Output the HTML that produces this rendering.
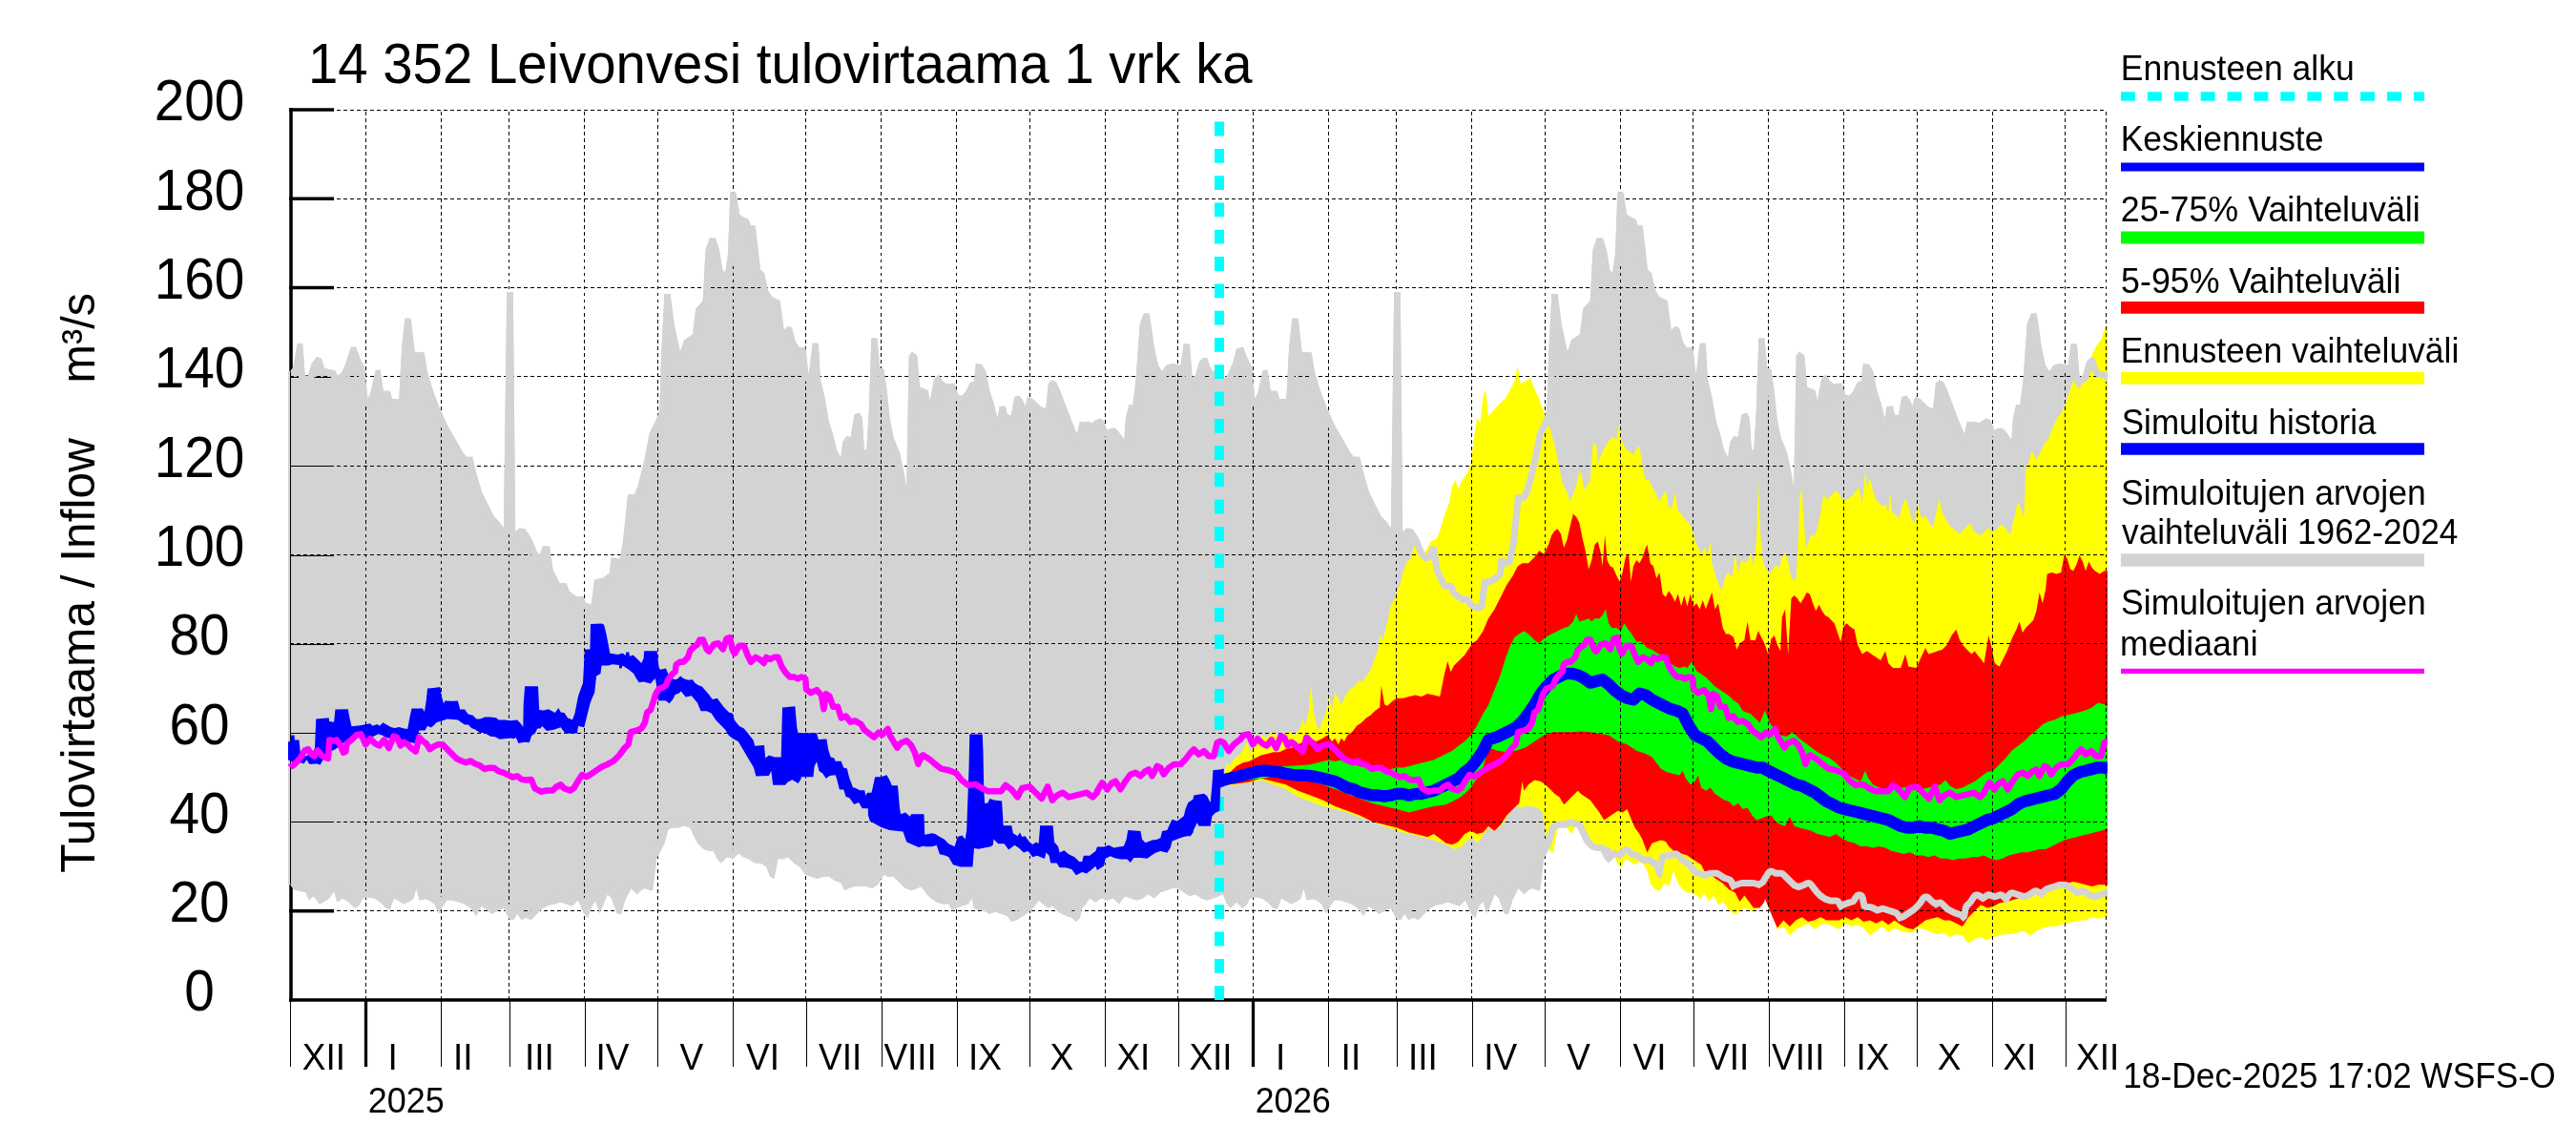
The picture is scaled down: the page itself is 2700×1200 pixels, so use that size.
<!DOCTYPE html>
<html><head><meta charset="utf-8"><style>
html,body{margin:0;padding:0;background:#fff;}
svg{display:block;}
text{font-family:"Liberation Sans",sans-serif;fill:#000;}
svg{will-change:transform;}
.gh{stroke:#000;stroke-width:1;stroke-dasharray:4.4 2.6;stroke-dashoffset:1.05;shape-rendering:crispEdges;}
.gv{stroke:#000;stroke-width:1;stroke-dasharray:3.8 3.224;shape-rendering:crispEdges;}
.yl{font-size:56px;text-anchor:middle;}
.ml{font-size:35.5px;}
.lg{font-size:36px;}
</style></head><body>
<svg width="2700" height="1200" viewBox="0 0 2700 1200">
<defs>
<clipPath id="pc"><rect x="302" y="114" width="1907" height="934"/></clipPath>
<clipPath id="gc"><polygon points="302.0,389.3 304.1,389.3 307.4,385.2 311.5,360.5 317.2,359.7 319.7,393.4 322.6,394.2 326.7,381.0 332.0,373.7 337.0,376.1 340.2,386.0 351.3,388.4 353.4,393.4 357.5,391.3 361.6,383.1 367.8,363.8 373.1,363.8 378.0,376.9 382.1,384.3 385.4,418.0 388.3,411.8 393.6,388.4 398.6,387.6 401.8,409.8 408.8,409.8 410.9,418.0 418.3,418.0 421.1,364.6 424.4,333.8 430.6,333.8 434.7,368.7 444.6,369.5 447.8,389.3 454.0,409.8 460.2,426.2 468.4,444.7 476.6,459.1 484.8,473.4 488.9,478.8 495.1,478.8 499.2,496.0 505.3,516.6 511.5,528.9 517.7,541.2 523.8,547.4 527.9,553.5 531.2,306.3 537.8,306.3 540.2,557.6 544.4,553.5 550.5,554.4 556.7,563.8 562.8,578.2 565.5,581.2 569.0,572.5 576.0,572.5 579.5,596.9 586.5,610.9 593.4,610.9 596.9,619.7 603.9,624.9 610.9,624.9 614.4,631.9 619.7,633.6 623.1,607.4 631.9,605.7 638.9,600.4 640.6,584.7 645.9,584.7 649.3,586.5 652.8,569.0 658.1,518.3 665.1,518.3 668.6,509.6 675.5,481.7 680.8,453.7 687.8,439.7 691.3,429.3 693.1,372.8 696.4,307.9 702.6,307.9 706.7,340.0 712.9,368.7 717.0,356.4 726.0,350.2 729.3,323.6 736.7,315.3 739.5,262.0 743.7,249.6 749.8,249.6 753.9,262.0 757.2,282.5 760.1,286.6 763.0,266.1 765.4,201.2 771.2,201.2 775.3,225.0 780.6,228.3 784.7,229.9 786.8,236.5 791.7,236.5 797.0,282.5 801.1,286.6 805.3,305.1 809.4,311.2 817.6,315.3 821.7,346.1 825.8,342.0 829.9,343.3 834.0,358.5 838.1,364.6 844.3,363.8 847.6,393.4 851.7,359.7 857.8,359.7 859.9,397.5 864.8,418.0 868.9,442.6 873.0,455.0 877.1,471.4 881.2,479.6 883.3,463.2 887.4,457.0 891.5,458.3 895.6,434.4 900.9,432.4 903.8,438.5 905.9,471.4 908.3,471.4 910.8,430.3 913.3,354.4 919.4,354.4 922.3,385.2 926.4,387.2 929.7,409.8 932.6,438.5 936.7,459.1 942.8,473.4 946.9,491.9 950.2,511.6 952.7,372.8 956.0,368.7 961.3,372.8 964.2,405.7 972.4,409.0 974.9,420.1 979.0,397.5 983.9,392.5 988.0,399.5 992.1,402.4 1000.3,401.6 1004.4,413.9 1008.5,414.7 1012.6,409.8 1016.8,400.8 1020.9,399.5 1022.9,381.0 1029.1,381.9 1033.2,389.3 1037.3,409.8 1041.4,422.1 1045.5,438.5 1047.6,426.2 1053.7,425.4 1055.8,434.4 1059.9,435.3 1060.0,434.4 1063.3,416.0 1068.2,414.7 1071.5,418.8 1074.4,425.4 1077.2,416.0 1082.6,418.0 1086.7,422.1 1090.8,426.2 1096.1,428.3 1099.0,401.6 1103.1,398.3 1107.2,400.8 1111.3,409.8 1117.5,426.2 1123.7,442.6 1129.0,455.0 1131.9,441.8 1136.0,442.6 1140.1,441.8 1144.2,443.5 1148.3,440.6 1152.4,438.5 1156.5,440.6 1160.6,450.9 1164.7,448.8 1168.8,448.8 1172.9,452.9 1178.3,461.1 1179.9,438.5 1183.2,424.2 1187.3,424.2 1190.6,397.5 1194.7,340.0 1198.8,328.5 1204.6,328.5 1207.0,344.1 1209.9,364.6 1214.0,383.1 1218.1,389.3 1222.2,383.1 1228.4,381.0 1234.5,381.9 1237.4,383.1 1240.7,360.5 1246.9,360.5 1249.7,395.4 1253.0,393.4 1257.1,379.0 1261.2,374.9 1265.3,374.9 1268.6,385.2 1271.5,389.3 1277.7,389.3 1281.8,393.4 1283.8,397.5 1287.9,390.1 1292.0,381.0 1296.1,365.4 1303.1,363.8 1308.0,376.9 1312.1,384.3 1315.4,418.0 1318.3,411.8 1323.6,388.4 1328.6,387.6 1331.8,409.8 1338.8,409.8 1340.9,418.0 1348.3,418.0 1351.1,364.6 1354.4,333.8 1360.6,333.8 1364.7,368.7 1374.6,369.5 1377.8,389.3 1384.0,409.8 1390.2,426.2 1398.4,444.7 1406.6,459.1 1414.8,473.4 1418.9,478.8 1425.1,478.8 1429.2,496.0 1435.3,516.6 1441.5,528.9 1447.7,541.2 1453.8,547.4 1457.9,553.5 1461.2,306.3 1467.8,306.3 1470.2,557.6 1474.4,553.5 1480.5,554.4 1486.7,563.8 1492.8,578.2 1495.5,581.2 1499.0,572.5 1506.0,572.5 1509.5,596.9 1516.5,610.9 1523.4,610.9 1526.9,619.7 1533.9,624.9 1540.9,624.9 1544.4,631.9 1549.7,633.6 1553.1,607.4 1561.9,605.7 1568.9,600.4 1570.6,584.7 1575.9,584.7 1579.3,586.5 1582.8,569.0 1588.1,518.3 1595.1,518.3 1598.6,509.6 1605.5,481.7 1610.8,453.7 1617.8,439.7 1621.3,429.3 1623.1,372.8 1626.4,307.9 1632.6,307.9 1636.7,340.0 1642.9,368.7 1647.0,356.4 1656.0,350.2 1659.3,323.6 1666.7,315.3 1669.5,262.0 1673.7,249.6 1679.8,249.6 1683.9,262.0 1687.2,282.5 1690.1,286.6 1693.0,266.1 1695.4,201.2 1701.2,201.2 1705.3,225.0 1710.6,228.3 1714.7,229.9 1716.8,236.5 1721.7,236.5 1727.0,282.5 1731.1,286.6 1735.3,305.1 1739.4,311.2 1747.6,315.3 1751.7,346.1 1755.8,342.0 1759.9,343.3 1764.0,358.5 1768.1,364.6 1774.3,363.8 1777.6,393.4 1781.7,359.7 1787.8,359.7 1789.9,397.5 1794.8,418.0 1798.9,442.6 1803.0,455.0 1807.1,471.4 1811.2,479.6 1813.3,463.2 1817.4,457.0 1821.5,458.3 1825.6,434.4 1830.9,432.4 1833.8,438.5 1835.9,471.4 1838.3,471.4 1840.8,430.3 1843.3,354.4 1849.4,354.4 1852.3,385.2 1856.4,387.2 1859.7,409.8 1862.6,438.5 1866.7,459.1 1872.8,473.4 1876.9,491.9 1880.2,511.6 1882.7,372.8 1886.0,368.7 1891.3,372.8 1894.2,405.7 1902.4,409.0 1904.9,420.1 1909.0,397.5 1913.9,392.5 1918.0,399.5 1922.1,402.4 1930.3,401.6 1934.4,413.9 1938.5,414.7 1942.6,409.8 1946.8,400.8 1950.9,399.5 1952.9,381.0 1959.1,381.9 1963.2,389.3 1967.3,409.8 1971.4,422.1 1975.5,438.5 1977.6,426.2 1983.7,425.4 1985.8,434.4 1989.9,435.3 1990.0,434.4 1993.3,416.0 1998.2,414.7 2001.5,418.8 2004.4,425.4 2007.2,416.0 2012.6,418.0 2016.7,422.1 2020.8,426.2 2026.1,428.3 2029.0,401.6 2033.1,398.3 2037.2,400.8 2041.3,409.8 2047.5,426.2 2053.7,442.6 2059.0,455.0 2061.9,441.8 2066.0,442.6 2070.1,441.8 2074.2,443.5 2078.3,440.6 2082.4,438.5 2086.5,440.6 2090.6,450.9 2094.7,448.8 2098.8,448.8 2102.9,452.9 2108.3,461.1 2109.9,438.5 2113.2,424.2 2117.3,424.2 2120.6,397.5 2124.7,340.0 2128.8,328.5 2134.6,328.5 2137.0,344.1 2139.9,364.6 2144.0,383.1 2148.1,389.3 2152.2,383.1 2158.4,381.0 2164.5,381.9 2167.4,383.1 2170.7,360.5 2176.9,360.5 2179.7,395.4 2183.0,393.4 2187.1,379.0 2191.2,374.9 2195.3,374.9 2198.6,385.2 2201.5,389.3 2207.7,389.3 2211.8,393.4 2213.8,397.5 2210.0,397.5 2210.0,937.3 2211.8,937.3 2207.7,939.3 2201.5,941.4 2195.3,943.4 2189.2,941.4 2183.0,937.3 2176.9,939.3 2170.7,935.2 2164.5,931.1 2158.4,931.1 2152.2,933.2 2146.1,935.2 2139.9,941.4 2133.7,937.3 2127.6,941.4 2121.4,943.4 2115.3,941.4 2109.1,939.3 2102.9,947.6 2096.8,941.4 2090.6,943.4 2084.5,941.4 2078.3,945.5 2072.1,941.4 2068.0,947.6 2063.9,951.7 2061.9,961.9 2057.8,966.0 2053.7,961.9 2047.5,959.9 2039.3,955.8 2033.1,949.6 2029.0,951.7 2022.9,947.6 2018.7,943.4 2014.6,949.6 2008.5,955.8 2002.3,959.9 1996.2,964.0 1990.0,966.0 1985.8,959.9 1979.6,957.8 1973.4,955.8 1967.3,957.8 1961.1,954.5 1955.0,953.7 1950.9,951.7 1948.8,941.4 1944.7,947.6 1938.5,949.6 1932.4,951.7 1928.3,954.5 1924.2,947.6 1918.0,947.6 1911.8,945.5 1905.7,941.4 1901.6,937.3 1895.4,929.1 1891.3,931.1 1885.2,933.2 1879.0,931.1 1872.8,925.0 1866.7,918.8 1860.5,918.8 1856.4,916.8 1850.2,927.0 1844.1,931.1 1837.9,929.1 1831.8,929.1 1825.6,929.1 1819.4,931.1 1815.3,933.2 1811.2,925.0 1805.1,922.9 1798.9,918.8 1792.8,918.8 1786.6,920.9 1780.4,918.8 1774.3,916.8 1768.1,908.5 1762.0,904.4 1755.8,898.3 1751.7,900.3 1745.5,900.3 1741.4,920.9 1737.3,918.8 1733.2,908.5 1727.0,904.4 1720.9,904.4 1714.7,900.3 1708.6,898.3 1704.5,894.2 1698.3,900.3 1692.1,898.3 1686.0,904.4 1681.9,900.3 1677.8,892.1 1673.7,892.1 1667.5,890.1 1661.3,883.9 1657.2,875.7 1653.1,867.5 1647.0,865.4 1640.8,867.5 1634.6,867.5 1630.5,869.5 1626.4,883.9 1622.3,892.1 1618.2,900.3 1614.1,933.2 1611.9,933.2 1605.8,931.1 1601.7,933.2 1597.6,937.3 1591.4,931.1 1585.2,943.4 1581.1,957.8 1577.0,957.8 1570.9,941.4 1566.8,937.3 1562.6,947.6 1558.5,957.0 1554.4,944.7 1550.3,949.6 1546.2,961.9 1542.1,957.8 1536.0,943.4 1529.8,949.6 1523.6,947.6 1517.5,945.5 1511.3,947.6 1505.2,948.8 1499.0,951.7 1492.8,957.8 1486.7,964.0 1481.3,961.9 1476.4,964.0 1472.3,957.8 1468.2,964.0 1464.1,964.0 1457.9,951.7 1451.8,954.5 1445.6,957.8 1440.3,953.7 1434.5,949.6 1429.2,959.9 1423.0,951.7 1416.9,947.6 1410.7,945.5 1404.5,943.4 1398.4,943.4 1394.3,949.6 1390.2,957.8 1385.2,947.6 1379.9,943.4 1375.8,942.2 1369.6,943.4 1366.3,931.1 1363.5,941.4 1359.4,944.7 1353.2,947.6 1347.0,943.4 1342.9,941.4 1338.8,952.9 1334.7,951.7 1328.6,945.5 1322.4,941.4 1316.2,940.6 1310.1,941.4 1306.0,949.6 1301.9,951.7 1296.1,945.5 1290.0,951.7 1285.9,947.6 1281.8,937.3 1277.7,939.3 1271.5,941.4 1265.3,943.4 1259.2,941.4 1253.0,937.3 1246.9,939.3 1240.7,935.2 1234.5,931.1 1228.4,931.1 1222.2,933.2 1216.1,935.2 1209.9,941.4 1203.7,937.3 1197.6,941.4 1191.4,943.4 1185.3,941.4 1179.1,939.3 1172.9,947.6 1166.8,941.4 1160.6,943.4 1154.5,941.4 1148.3,945.5 1142.1,941.4 1138.0,947.6 1133.9,951.7 1131.9,961.9 1127.8,966.0 1123.7,961.9 1117.5,959.9 1109.3,955.8 1103.1,949.6 1099.0,951.7 1092.9,947.6 1088.7,943.4 1084.6,949.6 1078.5,955.8 1072.3,959.9 1066.2,964.0 1060.0,966.0 1055.8,959.9 1049.6,957.8 1043.4,955.8 1037.3,957.8 1031.1,954.5 1025.0,953.7 1020.9,951.7 1018.8,941.4 1014.7,947.6 1008.5,949.6 1002.4,951.7 998.3,954.5 994.2,947.6 988.0,947.6 981.8,945.5 975.7,941.4 971.6,937.3 965.4,929.1 961.3,931.1 955.2,933.2 949.0,931.1 942.8,925.0 936.7,918.8 930.5,918.8 926.4,916.8 920.2,927.0 914.1,931.1 907.9,929.1 901.8,929.1 895.6,929.1 889.4,931.1 885.3,933.2 881.2,925.0 875.1,922.9 868.9,918.8 862.8,918.8 856.6,920.9 850.4,918.8 844.3,916.8 838.1,908.5 832.0,904.4 825.8,898.3 821.7,900.3 815.5,900.3 811.4,920.9 807.3,918.8 803.2,908.5 797.0,904.4 790.9,904.4 784.7,900.3 778.6,898.3 774.5,894.2 768.3,900.3 762.1,898.3 756.0,904.4 751.9,900.3 747.8,892.1 743.7,892.1 737.5,890.1 731.3,883.9 727.2,875.7 723.1,867.5 717.0,865.4 710.8,867.5 704.6,867.5 700.5,869.5 696.4,883.9 692.3,892.1 688.2,900.3 684.1,933.2 681.9,933.2 675.8,931.1 671.7,933.2 667.6,937.3 661.4,931.1 655.2,943.4 651.1,957.8 647.0,957.8 640.9,941.4 636.8,937.3 632.6,947.6 628.5,957.0 624.4,944.7 620.3,949.6 616.2,961.9 612.1,957.8 606.0,943.4 599.8,949.6 593.6,947.6 587.5,945.5 581.3,947.6 575.2,948.8 569.0,951.7 562.8,957.8 556.7,964.0 551.3,961.9 546.4,964.0 542.3,957.8 538.2,964.0 534.1,964.0 527.9,951.7 521.8,954.5 515.6,957.8 510.3,953.7 504.5,949.6 499.2,959.9 493.0,951.7 486.9,947.6 480.7,945.5 474.5,943.4 468.4,943.4 464.3,949.6 460.2,957.8 455.2,947.6 449.9,943.4 445.8,942.2 439.6,943.4 436.3,931.1 433.5,941.4 429.4,944.7 423.2,947.6 417.0,943.4 412.9,941.4 408.8,952.9 404.7,951.7 398.6,945.5 392.4,941.4 386.2,940.6 380.1,941.4 376.0,949.6 371.9,951.7 365.7,945.5 359.5,941.4 353.4,945.5 350.1,934.0 345.2,941.4 339.0,945.5 334.9,947.6 328.7,939.3 323.8,943.4 320.5,935.2 314.4,934.0 308.2,932.4 304.1,927.0 302.0,927.0"/></clipPath>
<clipPath id="yc"><polygon points="1278.0,816.0 1282.9,812.6 1286.2,799.6 1289.4,802.9 1292.6,796.4 1295.9,793.2 1300.7,789.9 1303.9,783.5 1307.2,777.0 1310.4,789.9 1313.6,780.2 1318.5,777.0 1323.3,770.5 1328.2,773.8 1333.0,767.3 1337.9,770.5 1342.7,773.8 1347.6,767.3 1352.4,767.3 1357.3,770.5 1362.1,764.1 1365.4,754.4 1368.6,760.8 1371.8,744.7 1374.1,717.2 1376.7,744.7 1379.9,760.8 1383.2,764.1 1386.4,754.4 1389.6,747.9 1392.9,728.5 1396.1,744.7 1399.3,725.3 1402.6,731.7 1405.8,738.2 1410.6,728.5 1415.5,722.0 1420.3,718.8 1425.2,712.3 1428.4,715.6 1431.7,709.1 1436.5,702.6 1439.7,692.9 1444.6,680.7 1446.2,666.1 1449.4,671.0 1454.3,651.6 1457.5,635.4 1462.4,625.7 1467.2,612.8 1470.5,599.9 1473.7,590.2 1478.5,585.3 1481.8,572.4 1485.0,561.1 1488.2,570.8 1493.1,578.8 1496.3,574.0 1499.6,567.5 1502.8,565.9 1506.0,564.3 1509.2,556.2 1512.5,544.9 1515.7,535.2 1518.9,527.1 1522.2,509.3 1525.4,502.9 1528.6,512.6 1531.9,504.5 1535.1,499.6 1538.3,494.8 1541.6,486.7 1544.8,460.8 1548.0,438.2 1551.3,443.0 1554.5,415.6 1557.1,408.5 1559.4,428.5 1560.0,436.6 1566.5,428.5 1572.9,422.0 1577.8,417.2 1582.6,409.1 1587.5,399.4 1590.7,383.2 1593.9,402.6 1598.8,399.4 1603.6,396.2 1608.5,407.5 1613.3,418.8 1618.2,431.7 1621.4,444.7 1624.7,447.9 1627.9,460.8 1631.1,473.8 1634.4,489.9 1637.6,506.1 1642.4,515.8 1645.7,525.5 1648.9,517.4 1652.1,509.3 1653.8,499.6 1657.0,493.2 1660.2,512.6 1663.5,509.3 1666.7,502.9 1669.9,464.1 1673.2,465.7 1674.8,486.7 1678.0,477.0 1681.2,470.5 1684.5,464.1 1687.7,460.8 1690.9,457.6 1694.2,460.8 1697.4,443.0 1699.7,460.8 1702.3,467.3 1705.5,472.1 1708.7,473.8 1712.0,477.0 1715.2,470.5 1718.4,467.3 1721.7,489.9 1724.9,502.9 1728.1,502.9 1731.4,509.3 1736.2,519.0 1739.4,525.5 1742.7,519.0 1745.9,514.2 1749.1,532.0 1752.4,532.0 1755.6,515.8 1758.8,535.2 1762.1,538.4 1766.9,544.9 1770.2,548.1 1773.4,554.6 1776.6,567.5 1779.9,574.0 1783.1,580.5 1786.3,574.0 1789.6,580.5 1792.8,567.5 1794.4,590.2 1799.2,606.3 1804.1,619.2 1808.9,603.1 1812.2,599.9 1815.4,606.3 1818.6,580.5 1821.9,599.9 1825.1,586.9 1830.0,590.2 1834.8,580.5 1838.0,593.4 1841.3,561.1 1842.9,502.9 1845.2,561.1 1847.7,586.9 1850.0,595.0 1854.8,601.5 1858.1,596.6 1861.3,591.8 1864.5,595.0 1867.8,585.3 1871.0,578.9 1874.2,588.6 1877.5,606.3 1882.3,608.0 1884.9,569.2 1886.2,523.9 1888.1,511.0 1890.4,540.1 1892.7,575.6 1895.2,569.2 1898.5,559.5 1901.7,562.7 1904.9,553.0 1908.2,536.9 1911.4,517.5 1914.6,523.9 1917.9,520.7 1921.1,517.5 1924.3,514.2 1927.6,517.5 1930.8,523.9 1934.0,523.9 1937.3,522.3 1942.1,519.1 1945.3,514.2 1948.6,511.0 1951.8,527.2 1955.0,493.2 1956.7,511.0 1959.9,501.3 1963.1,514.2 1966.4,523.9 1969.6,527.2 1972.8,530.4 1976.1,528.8 1979.3,536.9 1980.9,514.2 1983.2,536.9 1987.4,540.1 1990.6,543.3 1993.8,530.4 1997.1,522.3 2000.3,530.4 2003.5,543.3 2006.8,548.2 2010.0,527.2 2011.6,536.9 2014.8,543.3 2018.1,540.1 2021.3,546.5 2026.1,553.0 2029.4,536.9 2032.6,522.3 2035.8,536.9 2040.7,546.5 2045.5,553.0 2050.4,556.2 2053.6,559.5 2056.9,556.2 2060.1,553.0 2064.9,548.2 2068.2,556.2 2073.0,559.5 2076.2,561.1 2081.1,556.2 2084.3,553.0 2087.6,557.9 2090.8,556.2 2094.0,553.0 2097.3,549.8 2102.1,553.0 2106.9,561.1 2111.8,540.1 2115.0,525.5 2118.3,533.6 2121.5,543.3 2123.1,491.6 2126.3,485.1 2129.6,472.2 2134.4,481.9 2137.7,475.4 2142.5,465.7 2147.3,459.3 2152.2,446.4 2157.0,436.7 2160.3,433.4 2163.5,427.0 2166.7,417.3 2170.0,407.6 2173.2,397.9 2176.4,404.3 2179.7,407.6 2182.9,401.1 2186.1,394.6 2189.4,381.7 2192.6,372.0 2197.4,362.3 2202.3,355.9 2205.5,346.2 2210.1,339.7 2210.1,961.2 2205.5,961.2 2199.1,962.8 2192.6,961.2 2186.1,964.4 2179.7,964.4 2173.2,966.0 2166.7,967.7 2160.3,969.3 2153.8,970.9 2147.3,970.9 2140.9,972.5 2134.4,975.7 2128.0,980.6 2121.5,975.7 2115.0,977.3 2108.6,979.0 2102.1,979.0 2095.6,980.6 2089.2,982.2 2082.7,985.4 2076.2,982.2 2069.8,983.8 2063.3,988.7 2056.9,980.6 2050.4,979.0 2043.9,982.2 2037.5,977.3 2031.0,979.0 2024.5,977.3 2018.1,974.1 2011.6,972.5 2005.1,977.3 1998.7,977.3 1992.2,975.7 1985.7,972.5 1979.3,977.3 1972.8,970.9 1966.4,975.7 1959.9,980.6 1953.4,972.5 1947.0,969.3 1940.5,970.9 1934.0,967.7 1927.6,974.1 1921.1,970.9 1914.6,967.7 1908.2,969.3 1901.7,974.1 1895.2,967.7 1888.8,970.9 1882.3,974.1 1875.9,980.6 1869.4,970.9 1862.9,974.1 1856.5,954.7 1850.0,938.6 1847.7,948.3 1842.9,951.6 1838.0,954.8 1833.2,953.2 1828.3,951.6 1823.5,954.8 1818.6,958.0 1815.4,956.4 1810.6,951.6 1805.7,945.1 1800.9,948.3 1796.0,938.6 1791.2,945.1 1786.3,935.4 1783.1,941.9 1778.2,938.6 1773.4,935.4 1768.5,935.4 1763.7,932.2 1758.8,925.7 1754.0,912.8 1749.1,928.9 1744.3,925.7 1739.4,933.8 1734.6,932.2 1729.7,925.7 1726.5,912.8 1723.3,906.3 1718.4,903.1 1713.6,906.3 1708.7,903.1 1703.9,899.9 1699.0,909.6 1695.8,906.3 1690.9,893.4 1686.1,886.9 1681.2,890.2 1676.4,886.9 1671.5,890.2 1666.7,886.9 1661.8,880.5 1657.0,870.8 1652.1,864.3 1647.3,874.0 1642.4,867.5 1637.6,864.3 1632.7,867.5 1627.9,893.4 1623.0,890.2 1619.8,870.8 1616.6,851.4 1611.7,846.5 1605.3,844.9 1598.8,844.9 1593.9,846.5 1589.1,844.9 1584.2,849.7 1579.4,856.2 1572.9,865.9 1566.5,870.8 1560.0,867.5 1554.5,875.6 1548.0,883.7 1543.2,877.2 1538.3,880.5 1531.9,886.9 1525.4,890.2 1515.7,885.3 1502.8,880.5 1489.9,877.2 1476.9,874.0 1464.0,870.8 1451.1,865.9 1438.1,861.1 1425.2,856.2 1412.3,851.4 1399.3,848.1 1386.4,844.9 1373.5,840.0 1360.5,835.2 1347.6,827.1 1334.7,822.3 1321.7,817.4 1308.8,820.6 1295.9,822.3 1282.9,823.9"/></clipPath>
<clipPath id="fcc"><rect x="1278.0" y="115" width="929.0" height="933"/></clipPath>
</defs>
<rect width="2700" height="1200" fill="#fff"/>
<line x1="305" y1="113" x2="305" y2="1050" stroke="#000" stroke-width="3.5"/>
<line x1="303" y1="1048" x2="2208" y2="1048" stroke="#000" stroke-width="3.5"/>
<text transform="translate(209.0,1059.4) scale(1,1.06)" style="font-size:56.8px" text-anchor="middle">0</text><line x1="303" y1="954.7" x2="350" y2="954.7" stroke="#000" stroke-width="3.5"/><text transform="translate(209.0,966.1) scale(1,1.06)" style="font-size:56.8px" text-anchor="middle">20</text><line x1="303" y1="861.4" x2="350" y2="861.4" stroke="#000" stroke-width="3.5"/><text transform="translate(209.0,872.8) scale(1,1.06)" style="font-size:56.8px" text-anchor="middle">40</text><line x1="303" y1="768.1" x2="350" y2="768.1" stroke="#000" stroke-width="3.5"/><text transform="translate(209.0,779.5) scale(1,1.06)" style="font-size:56.8px" text-anchor="middle">60</text><line x1="303" y1="674.8" x2="350" y2="674.8" stroke="#000" stroke-width="3.5"/><text transform="translate(209.0,686.2) scale(1,1.06)" style="font-size:56.8px" text-anchor="middle">80</text><line x1="303" y1="581.5" x2="350" y2="581.5" stroke="#000" stroke-width="3.5"/><text transform="translate(209.0,592.9) scale(1,1.06)" style="font-size:56.8px" text-anchor="middle">100</text><line x1="303" y1="488.2" x2="350" y2="488.2" stroke="#000" stroke-width="3.5"/><text transform="translate(209.0,499.6) scale(1,1.06)" style="font-size:56.8px" text-anchor="middle">120</text><line x1="303" y1="394.9" x2="350" y2="394.9" stroke="#000" stroke-width="3.5"/><text transform="translate(209.0,406.3) scale(1,1.06)" style="font-size:56.8px" text-anchor="middle">140</text><line x1="303" y1="301.6" x2="350" y2="301.6" stroke="#000" stroke-width="3.5"/><text transform="translate(209.0,313.0) scale(1,1.06)" style="font-size:56.8px" text-anchor="middle">160</text><line x1="303" y1="208.3" x2="350" y2="208.3" stroke="#000" stroke-width="3.5"/><text transform="translate(209.0,219.7) scale(1,1.06)" style="font-size:56.8px" text-anchor="middle">180</text><line x1="303" y1="115.0" x2="350" y2="115.0" stroke="#000" stroke-width="3.5"/><text transform="translate(209.0,126.4) scale(1,1.06)" style="font-size:56.8px" text-anchor="middle">200</text><line x1="304.5" y1="1048" x2="304.5" y2="1118" stroke="#000" stroke-width="1"/><line x1="383.5" y1="1048" x2="383.5" y2="1118" stroke="#000" stroke-width="3.3"/><line x1="462.5" y1="1048" x2="462.5" y2="1118" stroke="#000" stroke-width="1"/><line x1="534.5" y1="1048" x2="534.5" y2="1118" stroke="#000" stroke-width="1"/><line x1="613.5" y1="1048" x2="613.5" y2="1118" stroke="#000" stroke-width="1"/><line x1="689.5" y1="1048" x2="689.5" y2="1118" stroke="#000" stroke-width="1"/><line x1="768.5" y1="1048" x2="768.5" y2="1118" stroke="#000" stroke-width="1"/><line x1="845.5" y1="1048" x2="845.5" y2="1118" stroke="#000" stroke-width="1"/><line x1="924.5" y1="1048" x2="924.5" y2="1118" stroke="#000" stroke-width="1"/><line x1="1003.5" y1="1048" x2="1003.5" y2="1118" stroke="#000" stroke-width="1"/><line x1="1079.5" y1="1048" x2="1079.5" y2="1118" stroke="#000" stroke-width="1"/><line x1="1158.5" y1="1048" x2="1158.5" y2="1118" stroke="#000" stroke-width="1"/><line x1="1235.5" y1="1048" x2="1235.5" y2="1118" stroke="#000" stroke-width="1"/><line x1="1313.5" y1="1048" x2="1313.5" y2="1118" stroke="#000" stroke-width="3.3"/><line x1="1392.5" y1="1048" x2="1392.5" y2="1118" stroke="#000" stroke-width="1"/><line x1="1464.5" y1="1048" x2="1464.5" y2="1118" stroke="#000" stroke-width="1"/><line x1="1543.5" y1="1048" x2="1543.5" y2="1118" stroke="#000" stroke-width="1"/><line x1="1619.5" y1="1048" x2="1619.5" y2="1118" stroke="#000" stroke-width="1"/><line x1="1698.5" y1="1048" x2="1698.5" y2="1118" stroke="#000" stroke-width="1"/><line x1="1775.5" y1="1048" x2="1775.5" y2="1118" stroke="#000" stroke-width="1"/><line x1="1854.5" y1="1048" x2="1854.5" y2="1118" stroke="#000" stroke-width="1"/><line x1="1933.5" y1="1048" x2="1933.5" y2="1118" stroke="#000" stroke-width="1"/><line x1="2009.5" y1="1048" x2="2009.5" y2="1118" stroke="#000" stroke-width="1"/><line x1="2088.5" y1="1048" x2="2088.5" y2="1118" stroke="#000" stroke-width="1"/><line x1="2165.5" y1="1048" x2="2165.5" y2="1118" stroke="#000" stroke-width="1"/>
<g clip-path="url(#pc)">
<polygon points="302.0,389.3 304.1,389.3 307.4,385.2 311.5,360.5 317.2,359.7 319.7,393.4 322.6,394.2 326.7,381.0 332.0,373.7 337.0,376.1 340.2,386.0 351.3,388.4 353.4,393.4 357.5,391.3 361.6,383.1 367.8,363.8 373.1,363.8 378.0,376.9 382.1,384.3 385.4,418.0 388.3,411.8 393.6,388.4 398.6,387.6 401.8,409.8 408.8,409.8 410.9,418.0 418.3,418.0 421.1,364.6 424.4,333.8 430.6,333.8 434.7,368.7 444.6,369.5 447.8,389.3 454.0,409.8 460.2,426.2 468.4,444.7 476.6,459.1 484.8,473.4 488.9,478.8 495.1,478.8 499.2,496.0 505.3,516.6 511.5,528.9 517.7,541.2 523.8,547.4 527.9,553.5 531.2,306.3 537.8,306.3 540.2,557.6 544.4,553.5 550.5,554.4 556.7,563.8 562.8,578.2 565.5,581.2 569.0,572.5 576.0,572.5 579.5,596.9 586.5,610.9 593.4,610.9 596.9,619.7 603.9,624.9 610.9,624.9 614.4,631.9 619.7,633.6 623.1,607.4 631.9,605.7 638.9,600.4 640.6,584.7 645.9,584.7 649.3,586.5 652.8,569.0 658.1,518.3 665.1,518.3 668.6,509.6 675.5,481.7 680.8,453.7 687.8,439.7 691.3,429.3 693.1,372.8 696.4,307.9 702.6,307.9 706.7,340.0 712.9,368.7 717.0,356.4 726.0,350.2 729.3,323.6 736.7,315.3 739.5,262.0 743.7,249.6 749.8,249.6 753.9,262.0 757.2,282.5 760.1,286.6 763.0,266.1 765.4,201.2 771.2,201.2 775.3,225.0 780.6,228.3 784.7,229.9 786.8,236.5 791.7,236.5 797.0,282.5 801.1,286.6 805.3,305.1 809.4,311.2 817.6,315.3 821.7,346.1 825.8,342.0 829.9,343.3 834.0,358.5 838.1,364.6 844.3,363.8 847.6,393.4 851.7,359.7 857.8,359.7 859.9,397.5 864.8,418.0 868.9,442.6 873.0,455.0 877.1,471.4 881.2,479.6 883.3,463.2 887.4,457.0 891.5,458.3 895.6,434.4 900.9,432.4 903.8,438.5 905.9,471.4 908.3,471.4 910.8,430.3 913.3,354.4 919.4,354.4 922.3,385.2 926.4,387.2 929.7,409.8 932.6,438.5 936.7,459.1 942.8,473.4 946.9,491.9 950.2,511.6 952.7,372.8 956.0,368.7 961.3,372.8 964.2,405.7 972.4,409.0 974.9,420.1 979.0,397.5 983.9,392.5 988.0,399.5 992.1,402.4 1000.3,401.6 1004.4,413.9 1008.5,414.7 1012.6,409.8 1016.8,400.8 1020.9,399.5 1022.9,381.0 1029.1,381.9 1033.2,389.3 1037.3,409.8 1041.4,422.1 1045.5,438.5 1047.6,426.2 1053.7,425.4 1055.8,434.4 1059.9,435.3 1060.0,434.4 1063.3,416.0 1068.2,414.7 1071.5,418.8 1074.4,425.4 1077.2,416.0 1082.6,418.0 1086.7,422.1 1090.8,426.2 1096.1,428.3 1099.0,401.6 1103.1,398.3 1107.2,400.8 1111.3,409.8 1117.5,426.2 1123.7,442.6 1129.0,455.0 1131.9,441.8 1136.0,442.6 1140.1,441.8 1144.2,443.5 1148.3,440.6 1152.4,438.5 1156.5,440.6 1160.6,450.9 1164.7,448.8 1168.8,448.8 1172.9,452.9 1178.3,461.1 1179.9,438.5 1183.2,424.2 1187.3,424.2 1190.6,397.5 1194.7,340.0 1198.8,328.5 1204.6,328.5 1207.0,344.1 1209.9,364.6 1214.0,383.1 1218.1,389.3 1222.2,383.1 1228.4,381.0 1234.5,381.9 1237.4,383.1 1240.7,360.5 1246.9,360.5 1249.7,395.4 1253.0,393.4 1257.1,379.0 1261.2,374.9 1265.3,374.9 1268.6,385.2 1271.5,389.3 1277.7,389.3 1281.8,393.4 1283.8,397.5 1287.9,390.1 1292.0,381.0 1296.1,365.4 1303.1,363.8 1308.0,376.9 1312.1,384.3 1315.4,418.0 1318.3,411.8 1323.6,388.4 1328.6,387.6 1331.8,409.8 1338.8,409.8 1340.9,418.0 1348.3,418.0 1351.1,364.6 1354.4,333.8 1360.6,333.8 1364.7,368.7 1374.6,369.5 1377.8,389.3 1384.0,409.8 1390.2,426.2 1398.4,444.7 1406.6,459.1 1414.8,473.4 1418.9,478.8 1425.1,478.8 1429.2,496.0 1435.3,516.6 1441.5,528.9 1447.7,541.2 1453.8,547.4 1457.9,553.5 1461.2,306.3 1467.8,306.3 1470.2,557.6 1474.4,553.5 1480.5,554.4 1486.7,563.8 1492.8,578.2 1495.5,581.2 1499.0,572.5 1506.0,572.5 1509.5,596.9 1516.5,610.9 1523.4,610.9 1526.9,619.7 1533.9,624.9 1540.9,624.9 1544.4,631.9 1549.7,633.6 1553.1,607.4 1561.9,605.7 1568.9,600.4 1570.6,584.7 1575.9,584.7 1579.3,586.5 1582.8,569.0 1588.1,518.3 1595.1,518.3 1598.6,509.6 1605.5,481.7 1610.8,453.7 1617.8,439.7 1621.3,429.3 1623.1,372.8 1626.4,307.9 1632.6,307.9 1636.7,340.0 1642.9,368.7 1647.0,356.4 1656.0,350.2 1659.3,323.6 1666.7,315.3 1669.5,262.0 1673.7,249.6 1679.8,249.6 1683.9,262.0 1687.2,282.5 1690.1,286.6 1693.0,266.1 1695.4,201.2 1701.2,201.2 1705.3,225.0 1710.6,228.3 1714.7,229.9 1716.8,236.5 1721.7,236.5 1727.0,282.5 1731.1,286.6 1735.3,305.1 1739.4,311.2 1747.6,315.3 1751.7,346.1 1755.8,342.0 1759.9,343.3 1764.0,358.5 1768.1,364.6 1774.3,363.8 1777.6,393.4 1781.7,359.7 1787.8,359.7 1789.9,397.5 1794.8,418.0 1798.9,442.6 1803.0,455.0 1807.1,471.4 1811.2,479.6 1813.3,463.2 1817.4,457.0 1821.5,458.3 1825.6,434.4 1830.9,432.4 1833.8,438.5 1835.9,471.4 1838.3,471.4 1840.8,430.3 1843.3,354.4 1849.4,354.4 1852.3,385.2 1856.4,387.2 1859.7,409.8 1862.6,438.5 1866.7,459.1 1872.8,473.4 1876.9,491.9 1880.2,511.6 1882.7,372.8 1886.0,368.7 1891.3,372.8 1894.2,405.7 1902.4,409.0 1904.9,420.1 1909.0,397.5 1913.9,392.5 1918.0,399.5 1922.1,402.4 1930.3,401.6 1934.4,413.9 1938.5,414.7 1942.6,409.8 1946.8,400.8 1950.9,399.5 1952.9,381.0 1959.1,381.9 1963.2,389.3 1967.3,409.8 1971.4,422.1 1975.5,438.5 1977.6,426.2 1983.7,425.4 1985.8,434.4 1989.9,435.3 1990.0,434.4 1993.3,416.0 1998.2,414.7 2001.5,418.8 2004.4,425.4 2007.2,416.0 2012.6,418.0 2016.7,422.1 2020.8,426.2 2026.1,428.3 2029.0,401.6 2033.1,398.3 2037.2,400.8 2041.3,409.8 2047.5,426.2 2053.7,442.6 2059.0,455.0 2061.9,441.8 2066.0,442.6 2070.1,441.8 2074.2,443.5 2078.3,440.6 2082.4,438.5 2086.5,440.6 2090.6,450.9 2094.7,448.8 2098.8,448.8 2102.9,452.9 2108.3,461.1 2109.9,438.5 2113.2,424.2 2117.3,424.2 2120.6,397.5 2124.7,340.0 2128.8,328.5 2134.6,328.5 2137.0,344.1 2139.9,364.6 2144.0,383.1 2148.1,389.3 2152.2,383.1 2158.4,381.0 2164.5,381.9 2167.4,383.1 2170.7,360.5 2176.9,360.5 2179.7,395.4 2183.0,393.4 2187.1,379.0 2191.2,374.9 2195.3,374.9 2198.6,385.2 2201.5,389.3 2207.7,389.3 2211.8,393.4 2213.8,397.5 2210.0,397.5 2210.0,937.3 2211.8,937.3 2207.7,939.3 2201.5,941.4 2195.3,943.4 2189.2,941.4 2183.0,937.3 2176.9,939.3 2170.7,935.2 2164.5,931.1 2158.4,931.1 2152.2,933.2 2146.1,935.2 2139.9,941.4 2133.7,937.3 2127.6,941.4 2121.4,943.4 2115.3,941.4 2109.1,939.3 2102.9,947.6 2096.8,941.4 2090.6,943.4 2084.5,941.4 2078.3,945.5 2072.1,941.4 2068.0,947.6 2063.9,951.7 2061.9,961.9 2057.8,966.0 2053.7,961.9 2047.5,959.9 2039.3,955.8 2033.1,949.6 2029.0,951.7 2022.9,947.6 2018.7,943.4 2014.6,949.6 2008.5,955.8 2002.3,959.9 1996.2,964.0 1990.0,966.0 1985.8,959.9 1979.6,957.8 1973.4,955.8 1967.3,957.8 1961.1,954.5 1955.0,953.7 1950.9,951.7 1948.8,941.4 1944.7,947.6 1938.5,949.6 1932.4,951.7 1928.3,954.5 1924.2,947.6 1918.0,947.6 1911.8,945.5 1905.7,941.4 1901.6,937.3 1895.4,929.1 1891.3,931.1 1885.2,933.2 1879.0,931.1 1872.8,925.0 1866.7,918.8 1860.5,918.8 1856.4,916.8 1850.2,927.0 1844.1,931.1 1837.9,929.1 1831.8,929.1 1825.6,929.1 1819.4,931.1 1815.3,933.2 1811.2,925.0 1805.1,922.9 1798.9,918.8 1792.8,918.8 1786.6,920.9 1780.4,918.8 1774.3,916.8 1768.1,908.5 1762.0,904.4 1755.8,898.3 1751.7,900.3 1745.5,900.3 1741.4,920.9 1737.3,918.8 1733.2,908.5 1727.0,904.4 1720.9,904.4 1714.7,900.3 1708.6,898.3 1704.5,894.2 1698.3,900.3 1692.1,898.3 1686.0,904.4 1681.9,900.3 1677.8,892.1 1673.7,892.1 1667.5,890.1 1661.3,883.9 1657.2,875.7 1653.1,867.5 1647.0,865.4 1640.8,867.5 1634.6,867.5 1630.5,869.5 1626.4,883.9 1622.3,892.1 1618.2,900.3 1614.1,933.2 1611.9,933.2 1605.8,931.1 1601.7,933.2 1597.6,937.3 1591.4,931.1 1585.2,943.4 1581.1,957.8 1577.0,957.8 1570.9,941.4 1566.8,937.3 1562.6,947.6 1558.5,957.0 1554.4,944.7 1550.3,949.6 1546.2,961.9 1542.1,957.8 1536.0,943.4 1529.8,949.6 1523.6,947.6 1517.5,945.5 1511.3,947.6 1505.2,948.8 1499.0,951.7 1492.8,957.8 1486.7,964.0 1481.3,961.9 1476.4,964.0 1472.3,957.8 1468.2,964.0 1464.1,964.0 1457.9,951.7 1451.8,954.5 1445.6,957.8 1440.3,953.7 1434.5,949.6 1429.2,959.9 1423.0,951.7 1416.9,947.6 1410.7,945.5 1404.5,943.4 1398.4,943.4 1394.3,949.6 1390.2,957.8 1385.2,947.6 1379.9,943.4 1375.8,942.2 1369.6,943.4 1366.3,931.1 1363.5,941.4 1359.4,944.7 1353.2,947.6 1347.0,943.4 1342.9,941.4 1338.8,952.9 1334.7,951.7 1328.6,945.5 1322.4,941.4 1316.2,940.6 1310.1,941.4 1306.0,949.6 1301.9,951.7 1296.1,945.5 1290.0,951.7 1285.9,947.6 1281.8,937.3 1277.7,939.3 1271.5,941.4 1265.3,943.4 1259.2,941.4 1253.0,937.3 1246.9,939.3 1240.7,935.2 1234.5,931.1 1228.4,931.1 1222.2,933.2 1216.1,935.2 1209.9,941.4 1203.7,937.3 1197.6,941.4 1191.4,943.4 1185.3,941.4 1179.1,939.3 1172.9,947.6 1166.8,941.4 1160.6,943.4 1154.5,941.4 1148.3,945.5 1142.1,941.4 1138.0,947.6 1133.9,951.7 1131.9,961.9 1127.8,966.0 1123.7,961.9 1117.5,959.9 1109.3,955.8 1103.1,949.6 1099.0,951.7 1092.9,947.6 1088.7,943.4 1084.6,949.6 1078.5,955.8 1072.3,959.9 1066.2,964.0 1060.0,966.0 1055.8,959.9 1049.6,957.8 1043.4,955.8 1037.3,957.8 1031.1,954.5 1025.0,953.7 1020.9,951.7 1018.8,941.4 1014.7,947.6 1008.5,949.6 1002.4,951.7 998.3,954.5 994.2,947.6 988.0,947.6 981.8,945.5 975.7,941.4 971.6,937.3 965.4,929.1 961.3,931.1 955.2,933.2 949.0,931.1 942.8,925.0 936.7,918.8 930.5,918.8 926.4,916.8 920.2,927.0 914.1,931.1 907.9,929.1 901.8,929.1 895.6,929.1 889.4,931.1 885.3,933.2 881.2,925.0 875.1,922.9 868.9,918.8 862.8,918.8 856.6,920.9 850.4,918.8 844.3,916.8 838.1,908.5 832.0,904.4 825.8,898.3 821.7,900.3 815.5,900.3 811.4,920.9 807.3,918.8 803.2,908.5 797.0,904.4 790.9,904.4 784.7,900.3 778.6,898.3 774.5,894.2 768.3,900.3 762.1,898.3 756.0,904.4 751.9,900.3 747.8,892.1 743.7,892.1 737.5,890.1 731.3,883.9 727.2,875.7 723.1,867.5 717.0,865.4 710.8,867.5 704.6,867.5 700.5,869.5 696.4,883.9 692.3,892.1 688.2,900.3 684.1,933.2 681.9,933.2 675.8,931.1 671.7,933.2 667.6,937.3 661.4,931.1 655.2,943.4 651.1,957.8 647.0,957.8 640.9,941.4 636.8,937.3 632.6,947.6 628.5,957.0 624.4,944.7 620.3,949.6 616.2,961.9 612.1,957.8 606.0,943.4 599.8,949.6 593.6,947.6 587.5,945.5 581.3,947.6 575.2,948.8 569.0,951.7 562.8,957.8 556.7,964.0 551.3,961.9 546.4,964.0 542.3,957.8 538.2,964.0 534.1,964.0 527.9,951.7 521.8,954.5 515.6,957.8 510.3,953.7 504.5,949.6 499.2,959.9 493.0,951.7 486.9,947.6 480.7,945.5 474.5,943.4 468.4,943.4 464.3,949.6 460.2,957.8 455.2,947.6 449.9,943.4 445.8,942.2 439.6,943.4 436.3,931.1 433.5,941.4 429.4,944.7 423.2,947.6 417.0,943.4 412.9,941.4 408.8,952.9 404.7,951.7 398.6,945.5 392.4,941.4 386.2,940.6 380.1,941.4 376.0,949.6 371.9,951.7 365.7,945.5 359.5,941.4 353.4,945.5 350.1,934.0 345.2,941.4 339.0,945.5 334.9,947.6 328.7,939.3 323.8,943.4 320.5,935.2 314.4,934.0 308.2,932.4 304.1,927.0 302.0,927.0" fill="#d3d3d3"/>
<polygon points="1278.0,816.0 1282.9,812.6 1286.2,799.6 1289.4,802.9 1292.6,796.4 1295.9,793.2 1300.7,789.9 1303.9,783.5 1307.2,777.0 1310.4,789.9 1313.6,780.2 1318.5,777.0 1323.3,770.5 1328.2,773.8 1333.0,767.3 1337.9,770.5 1342.7,773.8 1347.6,767.3 1352.4,767.3 1357.3,770.5 1362.1,764.1 1365.4,754.4 1368.6,760.8 1371.8,744.7 1374.1,717.2 1376.7,744.7 1379.9,760.8 1383.2,764.1 1386.4,754.4 1389.6,747.9 1392.9,728.5 1396.1,744.7 1399.3,725.3 1402.6,731.7 1405.8,738.2 1410.6,728.5 1415.5,722.0 1420.3,718.8 1425.2,712.3 1428.4,715.6 1431.7,709.1 1436.5,702.6 1439.7,692.9 1444.6,680.7 1446.2,666.1 1449.4,671.0 1454.3,651.6 1457.5,635.4 1462.4,625.7 1467.2,612.8 1470.5,599.9 1473.7,590.2 1478.5,585.3 1481.8,572.4 1485.0,561.1 1488.2,570.8 1493.1,578.8 1496.3,574.0 1499.6,567.5 1502.8,565.9 1506.0,564.3 1509.2,556.2 1512.5,544.9 1515.7,535.2 1518.9,527.1 1522.2,509.3 1525.4,502.9 1528.6,512.6 1531.9,504.5 1535.1,499.6 1538.3,494.8 1541.6,486.7 1544.8,460.8 1548.0,438.2 1551.3,443.0 1554.5,415.6 1557.1,408.5 1559.4,428.5 1560.0,436.6 1566.5,428.5 1572.9,422.0 1577.8,417.2 1582.6,409.1 1587.5,399.4 1590.7,383.2 1593.9,402.6 1598.8,399.4 1603.6,396.2 1608.5,407.5 1613.3,418.8 1618.2,431.7 1621.4,444.7 1624.7,447.9 1627.9,460.8 1631.1,473.8 1634.4,489.9 1637.6,506.1 1642.4,515.8 1645.7,525.5 1648.9,517.4 1652.1,509.3 1653.8,499.6 1657.0,493.2 1660.2,512.6 1663.5,509.3 1666.7,502.9 1669.9,464.1 1673.2,465.7 1674.8,486.7 1678.0,477.0 1681.2,470.5 1684.5,464.1 1687.7,460.8 1690.9,457.6 1694.2,460.8 1697.4,443.0 1699.7,460.8 1702.3,467.3 1705.5,472.1 1708.7,473.8 1712.0,477.0 1715.2,470.5 1718.4,467.3 1721.7,489.9 1724.9,502.9 1728.1,502.9 1731.4,509.3 1736.2,519.0 1739.4,525.5 1742.7,519.0 1745.9,514.2 1749.1,532.0 1752.4,532.0 1755.6,515.8 1758.8,535.2 1762.1,538.4 1766.9,544.9 1770.2,548.1 1773.4,554.6 1776.6,567.5 1779.9,574.0 1783.1,580.5 1786.3,574.0 1789.6,580.5 1792.8,567.5 1794.4,590.2 1799.2,606.3 1804.1,619.2 1808.9,603.1 1812.2,599.9 1815.4,606.3 1818.6,580.5 1821.9,599.9 1825.1,586.9 1830.0,590.2 1834.8,580.5 1838.0,593.4 1841.3,561.1 1842.9,502.9 1845.2,561.1 1847.7,586.9 1850.0,595.0 1854.8,601.5 1858.1,596.6 1861.3,591.8 1864.5,595.0 1867.8,585.3 1871.0,578.9 1874.2,588.6 1877.5,606.3 1882.3,608.0 1884.9,569.2 1886.2,523.9 1888.1,511.0 1890.4,540.1 1892.7,575.6 1895.2,569.2 1898.5,559.5 1901.7,562.7 1904.9,553.0 1908.2,536.9 1911.4,517.5 1914.6,523.9 1917.9,520.7 1921.1,517.5 1924.3,514.2 1927.6,517.5 1930.8,523.9 1934.0,523.9 1937.3,522.3 1942.1,519.1 1945.3,514.2 1948.6,511.0 1951.8,527.2 1955.0,493.2 1956.7,511.0 1959.9,501.3 1963.1,514.2 1966.4,523.9 1969.6,527.2 1972.8,530.4 1976.1,528.8 1979.3,536.9 1980.9,514.2 1983.2,536.9 1987.4,540.1 1990.6,543.3 1993.8,530.4 1997.1,522.3 2000.3,530.4 2003.5,543.3 2006.8,548.2 2010.0,527.2 2011.6,536.9 2014.8,543.3 2018.1,540.1 2021.3,546.5 2026.1,553.0 2029.4,536.9 2032.6,522.3 2035.8,536.9 2040.7,546.5 2045.5,553.0 2050.4,556.2 2053.6,559.5 2056.9,556.2 2060.1,553.0 2064.9,548.2 2068.2,556.2 2073.0,559.5 2076.2,561.1 2081.1,556.2 2084.3,553.0 2087.6,557.9 2090.8,556.2 2094.0,553.0 2097.3,549.8 2102.1,553.0 2106.9,561.1 2111.8,540.1 2115.0,525.5 2118.3,533.6 2121.5,543.3 2123.1,491.6 2126.3,485.1 2129.6,472.2 2134.4,481.9 2137.7,475.4 2142.5,465.7 2147.3,459.3 2152.2,446.4 2157.0,436.7 2160.3,433.4 2163.5,427.0 2166.7,417.3 2170.0,407.6 2173.2,397.9 2176.4,404.3 2179.7,407.6 2182.9,401.1 2186.1,394.6 2189.4,381.7 2192.6,372.0 2197.4,362.3 2202.3,355.9 2205.5,346.2 2210.1,339.7 2210.1,961.2 2205.5,961.2 2199.1,962.8 2192.6,961.2 2186.1,964.4 2179.7,964.4 2173.2,966.0 2166.7,967.7 2160.3,969.3 2153.8,970.9 2147.3,970.9 2140.9,972.5 2134.4,975.7 2128.0,980.6 2121.5,975.7 2115.0,977.3 2108.6,979.0 2102.1,979.0 2095.6,980.6 2089.2,982.2 2082.7,985.4 2076.2,982.2 2069.8,983.8 2063.3,988.7 2056.9,980.6 2050.4,979.0 2043.9,982.2 2037.5,977.3 2031.0,979.0 2024.5,977.3 2018.1,974.1 2011.6,972.5 2005.1,977.3 1998.7,977.3 1992.2,975.7 1985.7,972.5 1979.3,977.3 1972.8,970.9 1966.4,975.7 1959.9,980.6 1953.4,972.5 1947.0,969.3 1940.5,970.9 1934.0,967.7 1927.6,974.1 1921.1,970.9 1914.6,967.7 1908.2,969.3 1901.7,974.1 1895.2,967.7 1888.8,970.9 1882.3,974.1 1875.9,980.6 1869.4,970.9 1862.9,974.1 1856.5,954.7 1850.0,938.6 1847.7,948.3 1842.9,951.6 1838.0,954.8 1833.2,953.2 1828.3,951.6 1823.5,954.8 1818.6,958.0 1815.4,956.4 1810.6,951.6 1805.7,945.1 1800.9,948.3 1796.0,938.6 1791.2,945.1 1786.3,935.4 1783.1,941.9 1778.2,938.6 1773.4,935.4 1768.5,935.4 1763.7,932.2 1758.8,925.7 1754.0,912.8 1749.1,928.9 1744.3,925.7 1739.4,933.8 1734.6,932.2 1729.7,925.7 1726.5,912.8 1723.3,906.3 1718.4,903.1 1713.6,906.3 1708.7,903.1 1703.9,899.9 1699.0,909.6 1695.8,906.3 1690.9,893.4 1686.1,886.9 1681.2,890.2 1676.4,886.9 1671.5,890.2 1666.7,886.9 1661.8,880.5 1657.0,870.8 1652.1,864.3 1647.3,874.0 1642.4,867.5 1637.6,864.3 1632.7,867.5 1627.9,893.4 1623.0,890.2 1619.8,870.8 1616.6,851.4 1611.7,846.5 1605.3,844.9 1598.8,844.9 1593.9,846.5 1589.1,844.9 1584.2,849.7 1579.4,856.2 1572.9,865.9 1566.5,870.8 1560.0,867.5 1554.5,875.6 1548.0,883.7 1543.2,877.2 1538.3,880.5 1531.9,886.9 1525.4,890.2 1515.7,885.3 1502.8,880.5 1489.9,877.2 1476.9,874.0 1464.0,870.8 1451.1,865.9 1438.1,861.1 1425.2,856.2 1412.3,851.4 1399.3,848.1 1386.4,844.9 1373.5,840.0 1360.5,835.2 1347.6,827.1 1334.7,822.3 1321.7,817.4 1308.8,820.6 1295.9,822.3 1282.9,823.9" fill="#ffff00"/>
<polygon points="1278.0,816.0 1282.9,810.9 1289.4,809.3 1295.9,802.9 1302.3,799.6 1308.8,798.0 1315.3,794.8 1321.7,791.5 1328.2,789.9 1334.7,788.3 1341.1,788.3 1347.6,785.1 1354.1,783.5 1360.5,780.2 1367.0,777.0 1373.5,775.4 1379.9,777.0 1386.4,773.8 1391.2,770.5 1396.1,777.0 1399.3,773.8 1402.6,780.2 1405.8,773.8 1409.0,777.0 1412.3,770.5 1417.1,767.3 1422.0,760.8 1426.8,757.6 1431.7,752.7 1436.5,749.5 1441.4,744.7 1446.2,741.4 1447.8,718.8 1451.1,738.2 1454.3,739.8 1459.1,735.0 1464.0,731.7 1470.5,731.7 1476.9,730.1 1483.4,728.5 1489.9,730.1 1496.3,726.9 1502.8,728.5 1509.2,730.1 1514.1,705.9 1517.3,692.9 1520.6,704.2 1523.8,697.8 1528.6,692.9 1535.1,686.5 1543.2,674.2 1548.0,671.0 1554.5,661.3 1560.0,648.3 1566.5,638.6 1572.9,625.7 1579.4,612.8 1585.9,603.1 1590.7,593.4 1595.6,590.2 1602.0,590.2 1608.5,583.7 1613.3,577.2 1618.2,580.5 1623.0,570.8 1626.3,561.1 1629.5,556.2 1632.7,554.6 1636.0,559.4 1639.2,574.0 1642.4,565.9 1645.7,551.4 1648.9,538.4 1652.1,541.7 1655.4,548.1 1658.6,564.3 1661.8,577.2 1665.1,596.6 1668.3,586.9 1671.5,570.8 1674.8,567.5 1678.0,580.5 1679.6,593.4 1682.2,561.1 1684.5,586.9 1687.7,593.4 1690.9,595.0 1694.2,603.1 1697.4,609.6 1700.6,599.9 1703.9,583.7 1707.1,580.5 1709.4,609.6 1712.0,593.4 1715.2,586.9 1718.4,590.2 1721.7,583.7 1724.9,574.0 1726.5,570.8 1729.7,590.2 1733.0,593.4 1736.2,606.3 1739.4,599.9 1742.7,622.5 1745.9,625.7 1749.1,619.2 1752.4,624.1 1755.6,630.6 1758.8,622.5 1762.1,635.4 1765.3,624.1 1768.5,635.4 1771.8,622.5 1775.0,635.4 1778.2,632.2 1781.5,638.6 1784.7,628.9 1787.9,638.6 1791.2,628.9 1794.4,620.9 1797.6,638.6 1800.9,632.2 1805.7,658.0 1808.9,664.5 1812.2,664.5 1817.0,667.7 1820.3,680.7 1823.5,674.2 1828.3,671.0 1831.6,651.6 1834.8,671.0 1839.7,671.0 1842.9,661.3 1847.7,671.0 1850.0,675.8 1853.2,685.5 1856.5,669.4 1859.7,666.1 1862.9,675.8 1866.2,682.3 1867.8,646.7 1871.0,638.7 1874.2,685.5 1877.5,627.3 1880.7,624.1 1883.9,627.3 1887.2,632.2 1890.4,627.3 1893.6,620.9 1896.9,622.5 1900.1,632.2 1903.3,640.3 1906.6,633.8 1909.8,640.3 1913.0,645.1 1916.3,646.7 1919.5,650.0 1922.7,653.2 1926.0,662.9 1929.2,672.6 1932.4,656.4 1935.6,653.2 1938.9,656.4 1943.7,659.7 1947.0,675.8 1951.8,685.5 1956.7,682.3 1961.5,685.5 1966.4,688.8 1971.2,692.0 1976.1,682.3 1979.3,695.2 1984.1,700.1 1992.2,700.1 1997.1,685.5 2000.3,698.5 2008.4,700.1 2018.1,679.1 2021.3,685.5 2026.1,683.9 2031.0,682.3 2035.8,680.7 2040.7,675.8 2045.5,666.1 2050.4,659.7 2053.6,669.4 2056.9,675.8 2061.7,680.7 2066.5,685.5 2069.8,682.3 2073.0,687.1 2076.2,690.4 2079.5,695.2 2084.3,666.1 2087.6,679.1 2090.8,695.2 2095.6,698.5 2098.9,692.0 2103.7,682.3 2108.6,669.4 2113.4,659.7 2116.6,651.6 2119.9,662.9 2123.1,658.1 2128.0,653.2 2131.2,650.0 2134.4,640.3 2137.7,620.9 2140.9,632.2 2144.1,617.7 2145.7,601.5 2150.6,599.9 2155.4,601.5 2160.3,599.9 2163.5,582.1 2166.7,585.3 2170.0,596.6 2173.2,598.3 2176.4,591.8 2179.7,582.1 2182.9,588.6 2186.1,598.3 2189.4,588.6 2192.6,595.0 2195.8,598.3 2200.7,601.5 2205.5,598.3 2210.1,598.3 2210.1,927.3 2205.5,927.3 2199.1,927.3 2192.6,928.9 2186.1,927.3 2179.7,925.6 2173.2,924.0 2166.7,925.6 2160.3,928.9 2153.8,930.5 2147.3,932.1 2140.9,933.7 2134.4,935.3 2128.0,936.9 2121.5,938.6 2115.0,941.8 2108.6,943.4 2102.1,945.0 2095.6,946.6 2089.2,949.9 2082.7,951.5 2076.2,948.3 2069.8,954.7 2063.3,961.2 2056.9,970.9 2050.4,967.7 2043.9,964.4 2037.5,964.4 2031.0,961.2 2024.5,962.8 2018.1,964.4 2011.6,969.3 2005.1,974.1 1998.7,972.5 1992.2,969.3 1985.7,964.4 1979.3,969.3 1972.8,964.4 1966.4,967.7 1959.9,964.4 1953.4,966.0 1947.0,961.2 1940.5,964.4 1934.0,961.2 1927.6,964.4 1921.1,964.4 1914.6,964.4 1908.2,961.2 1901.7,964.4 1895.2,966.0 1888.8,961.2 1882.3,964.4 1875.9,970.9 1869.4,964.4 1862.9,972.5 1856.5,958.0 1850.0,941.8 1849.4,945.1 1844.5,951.6 1838.0,951.6 1833.2,945.1 1828.3,938.6 1823.5,945.1 1818.6,935.4 1812.2,932.2 1805.7,925.7 1800.9,922.5 1796.0,919.2 1791.2,916.0 1786.3,912.8 1783.1,906.3 1778.2,903.1 1773.4,899.9 1768.5,896.6 1763.7,895.0 1758.8,893.4 1754.0,891.8 1749.1,886.9 1745.9,882.1 1741.1,880.5 1736.2,882.1 1731.4,883.7 1726.5,893.4 1721.7,880.5 1718.4,874.0 1713.6,867.5 1708.7,856.2 1705.5,848.1 1700.6,851.4 1695.8,849.7 1690.9,853.0 1686.1,856.2 1681.2,859.4 1676.4,851.4 1671.5,844.9 1666.7,838.4 1661.8,835.2 1657.0,832.0 1653.8,828.7 1648.9,833.6 1644.1,838.4 1639.2,843.3 1634.4,835.2 1629.5,832.0 1624.7,827.1 1619.8,822.3 1615.0,819.0 1608.5,817.4 1602.0,822.3 1597.2,828.7 1595.6,819.0 1592.3,841.7 1585.9,848.1 1579.4,854.6 1572.9,864.3 1566.5,870.8 1560.0,865.9 1554.5,872.4 1548.0,874.0 1541.6,870.8 1535.1,874.0 1528.6,882.1 1522.2,885.3 1515.7,883.7 1509.2,878.8 1502.8,874.0 1496.3,877.2 1489.9,875.6 1476.9,872.4 1464.0,867.5 1451.1,864.3 1438.1,861.1 1425.2,854.6 1412.3,849.7 1399.3,844.9 1386.4,838.4 1373.5,833.6 1360.5,828.7 1347.6,822.3 1334.7,819.0 1321.7,815.8 1308.8,819.7 1295.9,821.6 1282.9,822.3" fill="#ff0000"/>
<polygon points="1278.0,816.0 1282.9,814.2 1295.9,810.9 1308.8,809.3 1321.7,806.1 1334.7,804.5 1347.6,802.9 1360.5,802.2 1373.5,801.2 1386.4,798.0 1392.9,796.4 1399.3,798.0 1405.8,796.4 1412.3,798.0 1418.7,801.2 1425.2,802.9 1431.7,804.5 1438.1,806.1 1444.6,807.7 1451.1,807.7 1457.5,806.1 1464.0,804.5 1470.5,804.5 1476.9,802.9 1483.4,801.2 1489.9,799.6 1496.3,798.0 1502.8,796.4 1509.2,793.2 1515.7,789.9 1522.2,786.7 1528.6,781.8 1535.1,777.0 1541.6,770.5 1548.0,760.8 1554.5,747.9 1560.0,738.9 1566.5,722.7 1572.9,706.5 1577.8,690.4 1582.6,677.4 1587.5,667.7 1592.3,664.5 1597.2,661.3 1602.0,664.5 1608.5,671.0 1613.3,674.2 1619.8,667.7 1626.3,664.5 1632.7,661.3 1639.2,658.0 1644.1,656.4 1648.9,651.6 1652.1,643.5 1655.4,651.6 1660.2,650.0 1665.1,648.3 1668.3,651.6 1671.5,648.3 1676.4,648.3 1679.6,645.1 1682.9,638.6 1686.1,653.2 1689.3,658.0 1694.2,658.0 1699.0,661.3 1702.3,653.2 1705.5,658.0 1710.3,664.5 1715.2,672.6 1720.0,672.6 1723.3,675.8 1726.5,679.1 1731.4,680.7 1736.2,683.9 1741.1,687.1 1745.9,690.4 1750.8,695.2 1755.6,698.5 1760.5,700.1 1765.3,698.5 1768.5,700.1 1773.4,693.6 1778.2,703.3 1783.1,706.5 1787.9,709.8 1792.8,714.6 1797.6,719.5 1802.5,722.7 1807.3,725.9 1812.2,729.2 1817.0,734.0 1821.9,737.3 1826.7,745.3 1834.8,747.9 1844.5,757.6 1850.0,744.6 1854.8,757.6 1859.7,764.0 1866.2,770.5 1872.6,772.1 1879.1,767.3 1885.6,773.7 1892.0,778.6 1898.5,783.4 1904.9,788.3 1911.4,791.5 1917.9,794.7 1924.3,799.6 1930.8,806.1 1937.3,812.5 1943.7,815.7 1950.2,819.0 1955.0,807.7 1958.3,815.7 1963.1,822.2 1969.6,825.4 1976.1,827.1 1982.5,823.8 1989.0,825.4 1995.4,825.4 2001.9,823.8 2008.4,825.4 2014.8,827.1 2021.3,825.4 2027.8,823.8 2034.2,822.2 2039.1,817.4 2043.9,823.8 2050.4,827.1 2056.9,825.4 2063.3,822.2 2069.8,819.0 2076.2,814.1 2082.7,809.3 2089.2,807.7 2095.6,801.2 2102.1,794.7 2108.6,786.7 2115.0,781.8 2121.5,777.0 2128.0,770.5 2134.4,765.6 2140.9,759.2 2147.3,756.0 2153.8,754.3 2160.3,751.1 2166.7,749.5 2173.2,747.9 2179.7,746.3 2186.1,744.6 2192.6,741.4 2199.1,736.6 2205.5,738.2 2210.1,741.4 2210.1,867.5 2202.3,870.7 2195.8,872.3 2189.4,873.9 2182.9,875.5 2176.4,877.2 2170.0,878.8 2163.5,880.4 2157.0,883.6 2150.6,886.9 2144.1,890.1 2137.7,890.1 2131.2,891.7 2124.7,893.3 2118.3,893.3 2111.8,894.9 2105.3,896.5 2098.9,899.8 2092.4,901.4 2085.9,899.8 2079.5,896.5 2073.0,898.2 2066.5,898.2 2060.1,899.8 2053.6,899.8 2047.2,901.4 2040.7,899.8 2034.2,899.8 2027.8,896.5 2021.3,898.2 2014.8,896.5 2008.4,896.5 2001.9,893.3 1995.4,894.9 1989.0,893.3 1982.5,891.7 1976.1,888.5 1969.6,886.9 1963.1,888.5 1956.7,886.9 1950.2,886.9 1943.7,883.6 1937.3,882.0 1930.8,878.8 1924.3,873.9 1917.9,877.2 1911.4,875.5 1904.9,873.9 1898.5,870.7 1892.0,869.1 1885.6,867.5 1880.7,865.8 1875.9,856.1 1871.0,865.8 1866.2,864.2 1861.3,861.0 1856.5,854.5 1850.0,856.1 1846.1,857.8 1841.3,859.4 1836.4,854.6 1831.6,846.5 1826.7,848.1 1821.9,841.7 1817.0,844.9 1812.2,840.0 1807.3,838.4 1802.5,835.2 1797.6,832.0 1792.8,825.5 1787.9,828.7 1783.1,825.5 1779.9,812.6 1776.6,819.0 1771.8,822.3 1766.9,815.8 1763.7,807.7 1760.5,812.6 1754.0,810.9 1747.5,809.3 1741.1,806.1 1736.2,799.6 1731.4,793.2 1724.9,789.9 1715.2,786.7 1705.5,780.2 1695.8,777.0 1686.1,770.5 1676.4,768.9 1666.7,767.3 1657.0,766.6 1647.3,767.3 1637.6,767.3 1627.9,767.3 1618.2,770.5 1608.5,777.0 1598.8,783.5 1589.1,786.7 1579.4,788.3 1569.7,786.7 1560.0,783.5 1554.5,804.5 1548.0,815.8 1541.6,825.5 1535.1,832.0 1528.6,836.8 1515.7,843.3 1502.8,844.9 1496.3,846.5 1483.4,849.7 1476.9,851.4 1464.0,848.1 1451.1,844.9 1438.1,841.7 1425.2,836.8 1412.3,832.0 1399.3,827.1 1386.4,822.3 1373.5,819.0 1360.5,817.4 1347.6,815.8 1334.7,814.2 1321.7,815.8 1308.8,817.4 1295.9,818.4 1282.9,819.7" fill="#00ff00"/>
<line x1="305" y1="954.7" x2="2207" y2="954.7" class="gh"/><line x1="305" y1="861.4" x2="2207" y2="861.4" class="gh"/><line x1="305" y1="768.1" x2="2207" y2="768.1" class="gh"/><line x1="305" y1="674.8" x2="2207" y2="674.8" class="gh"/><line x1="305" y1="581.5" x2="2207" y2="581.5" class="gh"/><line x1="305" y1="488.2" x2="2207" y2="488.2" class="gh"/><line x1="305" y1="394.9" x2="2207" y2="394.9" class="gh"/><line x1="305" y1="301.6" x2="2207" y2="301.6" class="gh"/><line x1="305" y1="208.3" x2="2207" y2="208.3" class="gh"/><line x1="305" y1="115.0" x2="2207" y2="115.0" class="gh"/><line x1="383.5" y1="117" x2="383.5" y2="1048" class="gv"/><line x1="462.5" y1="117" x2="462.5" y2="1048" class="gv"/><line x1="533.8" y1="117" x2="533.8" y2="1048" class="gv"/><line x1="612.8" y1="117" x2="612.8" y2="1048" class="gv"/><line x1="689.2" y1="117" x2="689.2" y2="1048" class="gv"/><line x1="768.2" y1="117" x2="768.2" y2="1048" class="gv"/><line x1="844.7" y1="117" x2="844.7" y2="1048" class="gv"/><line x1="923.7" y1="117" x2="923.7" y2="1048" class="gv"/><line x1="1002.7" y1="117" x2="1002.7" y2="1048" class="gv"/><line x1="1079.1" y1="117" x2="1079.1" y2="1048" class="gv"/><line x1="1158.1" y1="117" x2="1158.1" y2="1048" class="gv"/><line x1="1234.5" y1="117" x2="1234.5" y2="1048" class="gv"/><line x1="1313.5" y1="117" x2="1313.5" y2="1048" class="gv"/><line x1="1392.5" y1="117" x2="1392.5" y2="1048" class="gv"/><line x1="1463.8" y1="117" x2="1463.8" y2="1048" class="gv"/><line x1="1542.8" y1="117" x2="1542.8" y2="1048" class="gv"/><line x1="1619.3" y1="117" x2="1619.3" y2="1048" class="gv"/><line x1="1698.3" y1="117" x2="1698.3" y2="1048" class="gv"/><line x1="1774.7" y1="117" x2="1774.7" y2="1048" class="gv"/><line x1="1853.7" y1="117" x2="1853.7" y2="1048" class="gv"/><line x1="1932.7" y1="117" x2="1932.7" y2="1048" class="gv"/><line x1="2009.1" y1="117" x2="2009.1" y2="1048" class="gv"/><line x1="2088.1" y1="117" x2="2088.1" y2="1048" class="gv"/><line x1="2164.5" y1="117" x2="2164.5" y2="1048" class="gv"/><line x1="2207" y1="117" x2="2207" y2="1048" class="gv"/>
<line x1="304" y1="955.5" x2="350" y2="955.5" stroke="#000" stroke-width="1"/><line x1="304" y1="861.5" x2="350" y2="861.5" stroke="#000" stroke-width="1"/><line x1="304" y1="768.5" x2="350" y2="768.5" stroke="#000" stroke-width="1"/><line x1="304" y1="675.5" x2="350" y2="675.5" stroke="#000" stroke-width="1"/><line x1="304" y1="582.5" x2="350" y2="582.5" stroke="#000" stroke-width="1"/><line x1="304" y1="488.5" x2="350" y2="488.5" stroke="#000" stroke-width="1"/><line x1="304" y1="395.5" x2="350" y2="395.5" stroke="#000" stroke-width="1"/><line x1="304" y1="302.5" x2="350" y2="302.5" stroke="#000" stroke-width="1"/><line x1="304" y1="208.5" x2="350" y2="208.5" stroke="#000" stroke-width="1"/><line x1="304" y1="115.5" x2="350" y2="115.5" stroke="#000" stroke-width="1"/>
<line x1="304.5" y1="115" x2="304.5" y2="1048" stroke="#000" stroke-width="1"/>
<g clip-path="url(#gc)">
<polyline points="304.1,389.3 307.4,385.2 311.5,360.5 317.2,359.7 319.7,393.4 322.6,394.2 326.7,381.0 332.0,373.7 337.0,376.1 340.2,386.0 351.3,388.4 353.4,393.4 357.5,391.3 361.6,383.1 367.8,363.8 373.1,363.8 378.0,376.9 382.1,384.3 385.4,418.0 388.3,411.8 393.6,388.4 398.6,387.6 401.8,409.8 408.8,409.8 410.9,418.0 418.3,418.0 421.1,364.6 424.4,333.8 430.6,333.8 434.7,368.7 444.6,369.5 447.8,389.3 454.0,409.8 460.2,426.2 468.4,444.7 476.6,459.1 484.8,473.4 488.9,478.8 495.1,478.8 499.2,496.0 505.3,516.6 511.5,528.9 517.7,541.2 523.8,547.4 527.9,553.5 531.2,306.3 537.8,306.3 540.2,557.6 544.4,553.5 550.5,554.4 556.7,563.8 562.8,578.2 565.5,581.2 569.0,572.5 576.0,572.5 579.5,596.9 586.5,610.9 593.4,610.9 596.9,619.7 603.9,624.9 610.9,624.9 614.4,631.9 619.7,633.6 623.1,607.4 631.9,605.7 638.9,600.4 640.6,584.7 645.9,584.7 649.3,586.5 652.8,569.0 658.1,518.3 665.1,518.3 668.6,509.6 675.5,481.7 680.8,453.7 687.8,439.7 691.3,429.3 693.1,372.8 696.4,307.9 702.6,307.9 706.7,340.0 712.9,368.7 717.0,356.4 726.0,350.2 729.3,323.6 736.7,315.3 739.5,262.0 743.7,249.6 749.8,249.6 753.9,262.0 757.2,282.5 760.1,286.6 763.0,266.1 765.4,201.2 771.2,201.2 775.3,225.0 780.6,228.3 784.7,229.9 786.8,236.5 791.7,236.5 797.0,282.5 801.1,286.6 805.3,305.1 809.4,311.2 817.6,315.3 821.7,346.1 825.8,342.0 829.9,343.3 834.0,358.5 838.1,364.6 844.3,363.8 847.6,393.4 851.7,359.7 857.8,359.7 859.9,397.5 864.8,418.0 868.9,442.6 873.0,455.0 877.1,471.4 881.2,479.6 883.3,463.2 887.4,457.0 891.5,458.3 895.6,434.4 900.9,432.4 903.8,438.5 905.9,471.4 908.3,471.4 910.8,430.3 913.3,354.4 919.4,354.4 922.3,385.2 926.4,387.2 929.7,409.8 932.6,438.5 936.7,459.1 942.8,473.4 946.9,491.9 950.2,511.6 952.7,372.8 956.0,368.7 961.3,372.8 964.2,405.7 972.4,409.0 974.9,420.1 979.0,397.5 983.9,392.5 988.0,399.5 992.1,402.4 1000.3,401.6 1004.4,413.9 1008.5,414.7 1012.6,409.8 1016.8,400.8 1020.9,399.5 1022.9,381.0 1029.1,381.9 1033.2,389.3 1037.3,409.8 1041.4,422.1 1045.5,438.5 1047.6,426.2 1053.7,425.4 1055.8,434.4 1059.9,435.3 1060.0,434.4 1063.3,416.0 1068.2,414.7 1071.5,418.8 1074.4,425.4 1077.2,416.0 1082.6,418.0 1086.7,422.1 1090.8,426.2 1096.1,428.3 1099.0,401.6 1103.1,398.3 1107.2,400.8 1111.3,409.8 1117.5,426.2 1123.7,442.6 1129.0,455.0 1131.9,441.8 1136.0,442.6 1140.1,441.8 1144.2,443.5 1148.3,440.6 1152.4,438.5 1156.5,440.6 1160.6,450.9 1164.7,448.8 1168.8,448.8 1172.9,452.9 1178.3,461.1 1179.9,438.5 1183.2,424.2 1187.3,424.2 1190.6,397.5 1194.7,340.0 1198.8,328.5 1204.6,328.5 1207.0,344.1 1209.9,364.6 1214.0,383.1 1218.1,389.3 1222.2,383.1 1228.4,381.0 1234.5,381.9 1237.4,383.1 1240.7,360.5 1246.9,360.5 1249.7,395.4 1253.0,393.4 1257.1,379.0 1261.2,374.9 1265.3,374.9 1268.6,385.2 1271.5,389.3 1277.7,389.3 1281.8,393.4 1283.8,397.5 1287.9,390.1 1292.0,381.0 1296.1,365.4 1303.1,363.8 1308.0,376.9 1312.1,384.3 1315.4,418.0 1318.3,411.8 1323.6,388.4 1328.6,387.6 1331.8,409.8 1338.8,409.8 1340.9,418.0 1348.3,418.0 1351.1,364.6 1354.4,333.8 1360.6,333.8 1364.7,368.7 1374.6,369.5 1377.8,389.3 1384.0,409.8 1390.2,426.2 1398.4,444.7 1406.6,459.1 1414.8,473.4 1418.9,478.8 1425.1,478.8 1429.2,496.0 1435.3,516.6 1441.5,528.9 1447.7,541.2 1453.8,547.4 1457.9,553.5 1461.2,306.3 1467.8,306.3 1470.2,557.6 1474.4,553.5 1480.5,554.4 1486.7,563.8 1492.8,578.2 1495.5,581.2 1499.0,572.5 1506.0,572.5 1509.5,596.9 1516.5,610.9 1523.4,610.9 1526.9,619.7 1533.9,624.9 1540.9,624.9 1544.4,631.9 1549.7,633.6 1553.1,607.4 1561.9,605.7 1568.9,600.4 1570.6,584.7 1575.9,584.7 1579.3,586.5 1582.8,569.0 1588.1,518.3 1595.1,518.3 1598.6,509.6 1605.5,481.7 1610.8,453.7 1617.8,439.7 1621.3,429.3 1623.1,372.8 1626.4,307.9 1632.6,307.9 1636.7,340.0 1642.9,368.7 1647.0,356.4 1656.0,350.2 1659.3,323.6 1666.7,315.3 1669.5,262.0 1673.7,249.6 1679.8,249.6 1683.9,262.0 1687.2,282.5 1690.1,286.6 1693.0,266.1 1695.4,201.2 1701.2,201.2 1705.3,225.0 1710.6,228.3 1714.7,229.9 1716.8,236.5 1721.7,236.5 1727.0,282.5 1731.1,286.6 1735.3,305.1 1739.4,311.2 1747.6,315.3 1751.7,346.1 1755.8,342.0 1759.9,343.3 1764.0,358.5 1768.1,364.6 1774.3,363.8 1777.6,393.4 1781.7,359.7 1787.8,359.7 1789.9,397.5 1794.8,418.0 1798.9,442.6 1803.0,455.0 1807.1,471.4 1811.2,479.6 1813.3,463.2 1817.4,457.0 1821.5,458.3 1825.6,434.4 1830.9,432.4 1833.8,438.5 1835.9,471.4 1838.3,471.4 1840.8,430.3 1843.3,354.4 1849.4,354.4 1852.3,385.2 1856.4,387.2 1859.7,409.8 1862.6,438.5 1866.7,459.1 1872.8,473.4 1876.9,491.9 1880.2,511.6 1882.7,372.8 1886.0,368.7 1891.3,372.8 1894.2,405.7 1902.4,409.0 1904.9,420.1 1909.0,397.5 1913.9,392.5 1918.0,399.5 1922.1,402.4 1930.3,401.6 1934.4,413.9 1938.5,414.7 1942.6,409.8 1946.8,400.8 1950.9,399.5 1952.9,381.0 1959.1,381.9 1963.2,389.3 1967.3,409.8 1971.4,422.1 1975.5,438.5 1977.6,426.2 1983.7,425.4 1985.8,434.4 1989.9,435.3 1990.0,434.4 1993.3,416.0 1998.2,414.7 2001.5,418.8 2004.4,425.4 2007.2,416.0 2012.6,418.0 2016.7,422.1 2020.8,426.2 2026.1,428.3 2029.0,401.6 2033.1,398.3 2037.2,400.8 2041.3,409.8 2047.5,426.2 2053.7,442.6 2059.0,455.0 2061.9,441.8 2066.0,442.6 2070.1,441.8 2074.2,443.5 2078.3,440.6 2082.4,438.5 2086.5,440.6 2090.6,450.9 2094.7,448.8 2098.8,448.8 2102.9,452.9 2108.3,461.1 2109.9,438.5 2113.2,424.2 2117.3,424.2 2120.6,397.5 2124.7,340.0 2128.8,328.5 2134.6,328.5 2137.0,344.1 2139.9,364.6 2144.0,383.1 2148.1,389.3 2152.2,383.1 2158.4,381.0 2164.5,381.9 2167.4,383.1 2170.7,360.5 2176.9,360.5 2179.7,395.4 2183.0,393.4 2187.1,379.0 2191.2,374.9 2195.3,374.9 2198.6,385.2 2201.5,389.3 2207.7,389.3 2211.8,393.4 2213.8,397.5" fill="none" stroke="#d3d3d3" stroke-width="14" stroke-linejoin="round"/>
<polyline points="304.1,927.0 308.2,932.4 314.4,934.0 320.5,935.2 323.8,943.4 328.7,939.3 334.9,947.6 339.0,945.5 345.2,941.4 350.1,934.0 353.4,945.5 359.5,941.4 365.7,945.5 371.9,951.7 376.0,949.6 380.1,941.4 386.2,940.6 392.4,941.4 398.6,945.5 404.7,951.7 408.8,952.9 412.9,941.4 417.0,943.4 423.2,947.6 429.4,944.7 433.5,941.4 436.3,931.1 439.6,943.4 445.8,942.2 449.9,943.4 455.2,947.6 460.2,957.8 464.3,949.6 468.4,943.4 474.5,943.4 480.7,945.5 486.9,947.6 493.0,951.7 499.2,959.9 504.5,949.6 510.3,953.7 515.6,957.8 521.8,954.5 527.9,951.7 534.1,964.0 538.2,964.0 542.3,957.8 546.4,964.0 551.3,961.9 556.7,964.0 562.8,957.8 569.0,951.7 575.2,948.8 581.3,947.6 587.5,945.5 593.6,947.6 599.8,949.6 606.0,943.4 612.1,957.8 616.2,961.9 620.3,949.6 624.4,944.7 628.5,957.0 632.6,947.6 636.8,937.3 640.9,941.4 647.0,957.8 651.1,957.8 655.2,943.4 661.4,931.1 667.6,937.3 671.7,933.2 675.8,931.1 681.9,933.2 684.1,933.2 688.2,900.3 692.3,892.1 696.4,883.9 700.5,869.5 704.6,867.5 710.8,867.5 717.0,865.4 723.1,867.5 727.2,875.7 731.3,883.9 737.5,890.1 743.7,892.1 747.8,892.1 751.9,900.3 756.0,904.4 762.1,898.3 768.3,900.3 774.5,894.2 778.6,898.3 784.7,900.3 790.9,904.4 797.0,904.4 803.2,908.5 807.3,918.8 811.4,920.9 815.5,900.3 821.7,900.3 825.8,898.3 832.0,904.4 838.1,908.5 844.3,916.8 850.4,918.8 856.6,920.9 862.8,918.8 868.9,918.8 875.1,922.9 881.2,925.0 885.3,933.2 889.4,931.1 895.6,929.1 901.8,929.1 907.9,929.1 914.1,931.1 920.2,927.0 926.4,916.8 930.5,918.8 936.7,918.8 942.8,925.0 949.0,931.1 955.2,933.2 961.3,931.1 965.4,929.1 971.6,937.3 975.7,941.4 981.8,945.5 988.0,947.6 994.2,947.6 998.3,954.5 1002.4,951.7 1008.5,949.6 1014.7,947.6 1018.8,941.4 1020.9,951.7 1025.0,953.7 1031.1,954.5 1037.3,957.8 1043.4,955.8 1049.6,957.8 1055.8,959.9 1060.0,966.0 1066.2,964.0 1072.3,959.9 1078.5,955.8 1084.6,949.6 1088.7,943.4 1092.9,947.6 1099.0,951.7 1103.1,949.6 1109.3,955.8 1117.5,959.9 1123.7,961.9 1127.8,966.0 1131.9,961.9 1133.9,951.7 1138.0,947.6 1142.1,941.4 1148.3,945.5 1154.5,941.4 1160.6,943.4 1166.8,941.4 1172.9,947.6 1179.1,939.3 1185.3,941.4 1191.4,943.4 1197.6,941.4 1203.7,937.3 1209.9,941.4 1216.1,935.2 1222.2,933.2 1228.4,931.1 1234.5,931.1 1240.7,935.2 1246.9,939.3 1253.0,937.3 1259.2,941.4 1265.3,943.4 1271.5,941.4 1277.7,939.3 1281.8,937.3 1285.9,947.6 1290.0,951.7 1296.1,945.5 1301.9,951.7 1306.0,949.6 1310.1,941.4 1316.2,940.6 1322.4,941.4 1328.6,945.5 1334.7,951.7 1338.8,952.9 1342.9,941.4 1347.0,943.4 1353.2,947.6 1359.4,944.7 1363.5,941.4 1366.3,931.1 1369.6,943.4 1375.8,942.2 1379.9,943.4 1385.2,947.6 1390.2,957.8 1394.3,949.6 1398.4,943.4 1404.5,943.4 1410.7,945.5 1416.9,947.6 1423.0,951.7 1429.2,959.9 1434.5,949.6 1440.3,953.7 1445.6,957.8 1451.8,954.5 1457.9,951.7 1464.1,964.0 1468.2,964.0 1472.3,957.8 1476.4,964.0 1481.3,961.9 1486.7,964.0 1492.8,957.8 1499.0,951.7 1505.2,948.8 1511.3,947.6 1517.5,945.5 1523.6,947.6 1529.8,949.6 1536.0,943.4 1542.1,957.8 1546.2,961.9 1550.3,949.6 1554.4,944.7 1558.5,957.0 1562.6,947.6 1566.8,937.3 1570.9,941.4 1577.0,957.8 1581.1,957.8 1585.2,943.4 1591.4,931.1 1597.6,937.3 1601.7,933.2 1605.8,931.1 1611.9,933.2 1614.1,933.2 1618.2,900.3 1622.3,892.1 1626.4,883.9 1630.5,869.5 1634.6,867.5 1640.8,867.5 1647.0,865.4 1653.1,867.5 1657.2,875.7 1661.3,883.9 1667.5,890.1 1673.7,892.1 1677.8,892.1 1681.9,900.3 1686.0,904.4 1692.1,898.3 1698.3,900.3 1704.5,894.2 1708.6,898.3 1714.7,900.3 1720.9,904.4 1727.0,904.4 1733.2,908.5 1737.3,918.8 1741.4,920.9 1745.5,900.3 1751.7,900.3 1755.8,898.3 1762.0,904.4 1768.1,908.5 1774.3,916.8 1780.4,918.8 1786.6,920.9 1792.8,918.8 1798.9,918.8 1805.1,922.9 1811.2,925.0 1815.3,933.2 1819.4,931.1 1825.6,929.1 1831.8,929.1 1837.9,929.1 1844.1,931.1 1850.2,927.0 1856.4,916.8 1860.5,918.8 1866.7,918.8 1872.8,925.0 1879.0,931.1 1885.2,933.2 1891.3,931.1 1895.4,929.1 1901.6,937.3 1905.7,941.4 1911.8,945.5 1918.0,947.6 1924.2,947.6 1928.3,954.5 1932.4,951.7 1938.5,949.6 1944.7,947.6 1948.8,941.4 1950.9,951.7 1955.0,953.7 1961.1,954.5 1967.3,957.8 1973.4,955.8 1979.6,957.8 1985.8,959.9 1990.0,966.0 1996.2,964.0 2002.3,959.9 2008.5,955.8 2014.6,949.6 2018.7,943.4 2022.9,947.6 2029.0,951.7 2033.1,949.6 2039.3,955.8 2047.5,959.9 2053.7,961.9 2057.8,966.0 2061.9,961.9 2063.9,951.7 2068.0,947.6 2072.1,941.4 2078.3,945.5 2084.5,941.4 2090.6,943.4 2096.8,941.4 2102.9,947.6 2109.1,939.3 2115.3,941.4 2121.4,943.4 2127.6,941.4 2133.7,937.3 2139.9,941.4 2146.1,935.2 2152.2,933.2 2158.4,931.1 2164.5,931.1 2170.7,935.2 2176.9,939.3 2183.0,937.3 2189.2,941.4 2195.3,943.4 2201.5,941.4 2207.7,939.3 2211.8,937.3" fill="none" stroke="#d3d3d3" stroke-width="14" stroke-linejoin="round"/>
</g>
<line x1="1278.0" y1="1048" x2="1278.0" y2="115" stroke="#00ffff" stroke-width="10" stroke-dasharray="14.8 13.5"/>
<polygon points="301.2,777.2 304.9,777.2 305.1,770.5 308.6,770.5 308.8,775.4 313.5,775.4 314.7,787.6 317.1,791.3 320.8,792.5 324.5,790.1 328.1,787.6 330.0,784.0 331.2,753.4 336.7,753.1 342.8,752.4 344.6,752.2 345.2,756.1 350.1,756.8 351.4,743.6 364.8,743.3 366.7,753.4 368.5,761.3 373.4,760.7 379.5,760.1 383.2,758.9 388.1,758.3 390.5,760.7 395.4,758.9 397.8,760.7 401.5,757.3 405.2,759.5 410.1,762.2 413.7,762.9 418.6,761.9 422.3,763.2 427.2,764.1 429.6,750.9 431.5,742.6 438.2,742.4 443.1,742.4 444.9,746.0 446.8,733.8 448.0,721.6 454.1,721.0 461.4,720.1 462.7,728.9 465.1,737.5 466.3,734.4 473.7,734.8 479.8,734.4 481.0,738.7 482.2,743.6 487.1,743.6 490.8,748.5 495.7,749.7 499.3,753.4 503.0,753.4 506.7,752.2 507.9,751.5 514.0,751.5 520.1,752.2 522.6,754.6 529.9,754.6 534.8,755.2 542.1,754.6 545.8,758.3 548.3,761.9 548.7,737.8 550.1,719.2 564.0,719.2 565.2,744.0 569.5,744.6 575.0,743.3 581.7,747.0 585.4,742.1 587.8,746.4 591.5,747.0 595.1,752.5 600.0,754.3 602.5,747.6 606.1,729.3 611.0,715.8 612.9,680.4 618.4,680.4 619.0,654.1 630.6,653.5 633.1,654.7 635.5,664.5 637.9,676.7 639.2,684.6 642.8,685.2 647.7,685.9 652.6,684.6 655.7,687.1 656.3,683.4 659.3,683.4 660.0,687.7 663.6,686.5 667.3,690.1 672.2,695.0 674.6,690.1 675.2,682.2 688.7,682.2 690.5,698.7 691.8,701.8 697.9,700.5 700.3,706.0 704.0,710.9 707.7,712.2 710.1,711.5 713.2,708.5 716.2,710.9 721.1,712.8 726.0,712.2 728.4,715.8 732.1,718.3 735.8,719.5 739.4,723.8 743.1,728.1 746.8,732.9 751.7,731.7 755.3,736.6 759.0,741.5 763.9,746.4 767.6,747.6 770.0,755.0 774.9,761.1 779.8,763.5 784.7,769.6 789.6,775.7 790.0,776.9 791.2,781.8 801.0,781.1 802.2,794.6 805.9,791.5 812.0,793.4 818.7,793.4 820.0,741.4 833.4,740.2 835.2,761.6 836.5,768.3 856.0,768.3 857.9,775.0 866.4,774.4 868.3,786.0 870.7,793.4 874.4,794.6 875.6,797.7 881.7,797.7 884.2,804.4 887.8,805.6 890.3,815.4 894.0,825.2 896.4,825.8 901.3,828.2 906.2,828.2 907.4,833.7 909.2,830.7 913.5,830.7 917.2,814.2 923.3,814.2 929.4,812.3 931.9,816.6 934.9,823.3 941.0,823.3 942.9,846.0 944.1,853.3 949.0,851.5 953.9,855.7 955.1,853.3 968.5,853.3 969.2,874.7 977.0,873.2 980.2,874.0 984.9,877.1 989.6,879.5 994.3,884.2 1000.6,887.3 1003.7,877.1 1008.5,875.5 1011.6,879.5 1013.2,870.0 1015.5,805.6 1016.3,769.4 1029.7,769.4 1030.5,788.3 1031.2,824.4 1032.0,841.7 1035.2,841.7 1037.5,837.0 1041.5,838.6 1050.1,839.4 1051.7,865.3 1060.3,865.3 1061.9,873.2 1066.6,876.3 1069.0,872.4 1071.3,877.1 1074.5,876.3 1079.2,882.6 1082.3,885.0 1086.3,882.6 1088.6,884.2 1090.2,865.3 1103.6,865.3 1105.1,882.6 1109.1,887.3 1110.6,893.6 1115.3,891.2 1120.1,895.2 1126.3,898.3 1131.1,903.0 1134.2,903.0 1135.8,896.7 1142.1,896.7 1148.3,892.0 1150.0,887.5 1157.0,887.5 1162.2,885.8 1167.5,888.4 1172.7,887.5 1177.9,886.7 1180.6,879.7 1182.3,870.1 1195.4,871.0 1197.1,879.7 1200.6,883.2 1207.6,880.6 1212.9,879.7 1216.4,877.9 1218.1,871.0 1223.3,870.1 1226.8,862.2 1228.6,858.7 1233.8,860.5 1240.8,855.2 1242.5,848.3 1245.2,841.3 1250.4,837.8 1251.3,833.4 1261.8,831.7 1265.2,834.3 1268.7,841.3 1270.5,822.1 1271.4,807.2 1279.2,806.4 1282.7,805.5 1282.7,824.2 1279.2,825.6 1278.3,850.0 1274.0,851.8 1270.5,855.2 1268.7,865.7 1256.5,865.7 1254.8,862.2 1251.3,869.2 1250.4,872.7 1247.8,876.2 1244.3,876.2 1240.8,877.1 1235.6,878.8 1228.6,881.4 1226.8,888.4 1223.3,893.7 1216.4,891.9 1211.1,893.7 1205.9,897.2 1202.4,899.8 1195.4,898.9 1188.4,898.9 1184.9,904.1 1181.4,900.6 1174.4,900.6 1167.5,898.9 1164.0,897.2 1158.7,899.8 1157.0,907.6 1150.0,912.0 1148.3,907.8 1142.8,912.5 1138.9,915.6 1134.2,914.0 1127.9,917.2 1123.2,910.9 1116.9,909.3 1110.6,909.3 1107.5,904.6 1101.2,904.6 1099.6,896.7 1096.5,893.6 1094.9,899.9 1087.0,896.7 1082.3,898.3 1077.6,892.0 1072.9,893.6 1068.2,888.9 1063.5,885.7 1057.2,890.5 1052.5,884.2 1046.2,884.2 1041.5,879.5 1040.7,885.7 1038.3,887.3 1025.7,889.7 1021.0,888.9 1019.5,908.5 1006.9,908.5 999.0,906.2 994.3,898.3 991.2,896.7 984.9,895.2 981.7,885.7 977.0,887.3 969.2,887.3 968.4,886.5 962.9,888.1 950.3,882.6 946.4,871.6 932.2,870.0 923.6,866.9 911.8,860.6 909.9,854.3 909.8,847.2 903.7,847.2 900.1,841.1 895.2,842.9 890.3,836.2 886.6,835.0 884.2,827.6 879.9,827.6 876.8,815.4 875.6,812.3 869.5,812.9 865.8,816.0 862.2,810.5 858.5,808.1 856.0,798.3 853.6,803.2 852.4,814.2 840.1,814.2 838.9,817.8 836.5,820.9 830.4,817.2 825.5,819.7 823.0,822.7 810.2,822.7 808.3,808.1 805.9,812.9 792.4,813.6 790.0,804.4 773.7,777.0 768.8,774.5 763.9,770.9 760.2,764.7 755.3,759.8 750.5,755.0 745.6,747.6 740.7,745.2 734.6,745.2 730.9,736.6 724.8,729.3 718.7,730.5 713.8,724.4 711.3,726.8 707.7,728.1 705.2,732.9 701.5,737.2 697.9,734.2 689.9,734.2 688.1,718.3 686.9,710.9 684.4,713.4 682.0,716.4 674.6,714.6 669.7,715.2 666.1,709.7 664.2,706.0 660.0,702.4 652.6,697.5 651.4,700.5 649.0,700.5 649.0,696.9 641.6,696.3 637.9,697.5 630.6,697.5 629.4,706.0 625.1,708.5 623.3,725.6 619.6,734.2 618.4,737.8 614.7,752.5 612.3,762.3 606.1,761.1 604.9,768.4 598.8,768.4 592.7,769.0 587.8,762.3 580.5,764.7 573.1,766.0 568.2,761.1 566.4,763.5 563.3,763.5 560.9,768.4 557.2,770.9 554.8,778.2 549.5,777.8 543.4,779.1 540.9,772.9 538.5,774.2 534.8,773.6 528.7,774.2 523.8,774.8 518.9,772.3 514.0,771.7 507.9,768.1 503.0,768.1 498.1,764.4 494.4,763.2 490.8,759.5 487.1,759.5 483.4,757.0 479.8,754.6 474.9,754.0 468.8,753.4 462.7,755.8 457.8,757.0 454.1,760.7 451.6,762.5 448.0,760.7 445.5,765.6 439.4,765.6 437.0,772.9 434.5,779.1 428.4,777.8 422.3,776.6 419.8,774.2 415.0,772.9 410.1,774.2 405.2,772.9 401.5,771.1 396.6,769.3 390.5,772.3 385.6,772.9 380.7,776.6 375.8,771.1 368.5,774.2 366.0,775.4 361.1,777.8 356.3,781.5 351.4,785.2 346.5,787.6 342.8,793.7 339.1,795.6 335.5,801.7 333.0,800.5 329.4,800.5 324.5,801.1 321.4,796.2 318.3,800.5 315.9,799.2 311.0,800.5 307.3,799.8 304.9,797.4 301.2,796.2" fill="#0000ff"/>
<polyline points="1278.0,816.0 1282.9,817.4 1289.4,815.8 1295.9,814.2 1302.3,812.6 1308.8,810.9 1315.3,809.3 1321.7,807.7 1328.2,807.7 1334.7,808.7 1341.1,809.3 1347.6,810.9 1354.1,811.9 1360.5,812.6 1367.0,812.6 1373.5,813.2 1379.9,814.2 1386.4,815.8 1392.9,817.4 1399.3,819.0 1405.8,822.3 1412.3,825.5 1418.7,827.1 1425.2,830.3 1431.7,832.0 1438.1,833.6 1444.6,833.6 1451.1,834.5 1457.5,833.6 1464.0,832.0 1470.5,832.0 1476.9,833.6 1483.4,832.0 1489.9,832.0 1496.3,830.3 1502.8,828.7 1509.2,825.5 1515.7,822.3 1522.2,819.0 1528.6,815.8 1535.1,809.3 1541.6,804.5 1548.0,796.4 1554.5,786.7 1560.0,775.4 1569.7,772.1 1579.4,767.3 1589.1,762.4 1595.6,756.0 1602.0,747.9 1608.5,738.2 1615.0,726.9 1621.4,718.8 1627.9,712.3 1634.4,709.1 1640.8,705.9 1647.3,705.9 1653.8,707.5 1660.2,710.7 1666.7,715.6 1673.2,713.9 1679.6,712.3 1686.1,717.2 1692.6,723.6 1699.0,728.5 1705.5,731.7 1712.0,733.3 1718.4,726.9 1724.9,728.5 1731.4,733.3 1737.8,736.6 1744.3,739.8 1750.8,743.0 1757.2,744.7 1763.7,747.9 1770.2,760.8 1776.6,770.5 1783.1,773.8 1789.6,777.0 1796.0,783.5 1802.5,789.9 1808.9,794.8 1815.4,798.0 1821.9,799.6 1828.3,801.2 1834.8,802.9 1841.3,804.5 1847.7,804.5 1850.0,806.1 1856.5,809.3 1862.9,812.5 1869.4,815.7 1875.9,819.0 1882.3,822.2 1888.8,823.8 1895.2,827.1 1901.7,830.3 1908.2,835.1 1914.6,840.0 1921.1,843.2 1927.6,846.5 1934.0,848.1 1940.5,849.7 1947.0,851.3 1953.4,852.9 1959.9,854.5 1966.4,856.1 1972.8,857.8 1979.3,859.4 1985.7,862.6 1992.2,865.8 1998.7,867.5 2005.1,867.5 2011.6,865.8 2018.1,867.5 2024.5,867.5 2031.0,869.1 2037.5,870.7 2043.9,873.9 2050.4,872.3 2056.9,870.7 2063.3,869.1 2069.8,865.8 2076.2,862.6 2082.7,859.4 2089.2,857.8 2095.6,854.5 2102.1,851.3 2108.6,848.1 2115.0,843.2 2121.5,840.0 2128.0,838.4 2134.4,836.8 2140.9,835.1 2147.3,833.5 2153.8,831.9 2160.3,827.1 2166.7,819.0 2173.2,812.5 2179.7,809.3 2186.1,807.7 2192.6,806.1 2199.1,804.4 2205.5,804.4 2210.1,806.1" fill="none" stroke="#0000ff" stroke-width="12.5" stroke-linejoin="round"/>
<polyline points="304.1,803.8 304.3,803.5 307.3,802.3 312.2,797.4 315.9,792.5 319.6,786.4 323.2,785.2 325.7,790.1 329.4,792.5 333.0,786.4 336.7,791.3 340.4,793.7 344.0,795.0 345.2,775.4 350.1,776.6 352.6,775.4 356.3,780.3 359.9,788.8 362.4,787.6 363.6,779.1 368.5,775.4 373.4,770.5 378.3,769.3 383.2,780.3 388.1,774.2 392.9,779.1 397.8,781.5 402.7,775.4 407.6,784.0 412.5,771.7 416.2,772.9 419.8,781.5 423.5,777.8 427.2,780.3 430.9,784.0 435.7,787.6 439.4,772.9 443.1,776.6 446.8,779.1 450.4,785.2 454.1,782.7 459.0,780.3 463.9,780.3 468.8,785.2 473.7,790.1 478.5,795.0 483.4,797.4 488.3,799.2 493.2,797.4 498.1,800.5 503.0,802.3 507.9,806.0 512.8,804.7 517.7,804.7 522.6,808.4 527.5,809.6 532.4,812.1 537.3,814.5 542.1,813.3 547.0,817.0 551.9,817.6 556.8,817.0 560.8,826.4 566.9,829.7 573.1,828.5 579.3,828.5 583.4,824.4 587.5,822.3 591.6,826.4 597.7,828.5 601.8,825.6 606.0,818.2 610.1,812.0 614.2,814.1 618.3,812.0 624.4,807.9 630.6,803.8 636.8,800.9 642.9,797.7 649.1,791.5 655.2,783.3 658.7,780.0 661.2,767.2 666.1,766.0 672.2,763.5 675.9,757.4 678.3,746.4 682.0,744.0 684.4,736.6 686.9,728.1 690.5,721.9 694.2,720.7 697.9,718.3 700.3,712.2 704.0,707.3 707.7,703.6 708.9,696.3 712.5,693.8 716.2,693.8 721.1,688.9 723.5,681.6 727.2,677.9 730.9,675.5 733.3,670.6 737.0,670.6 740.7,680.4 743.1,682.8 748.0,675.5 752.9,674.2 757.8,680.4 761.5,669.4 765.1,668.1 767.6,680.4 770.0,685.2 774.9,676.7 779.8,676.7 783.5,686.5 787.1,693.8 792.0,688.9 796.9,691.4 800.6,695.0 803.2,688.8 807.3,690.9 811.4,688.8 815.5,688.8 819.6,699.1 823.7,705.3 827.8,709.4 832.0,709.4 836.1,711.4 840.2,709.4 844.3,711.4 845.0,722.4 849.9,726.1 856.0,723.1 860.9,728.6 863.4,743.2 865.8,727.3 869.5,729.8 873.2,740.8 878.1,740.8 881.7,752.4 886.6,750.6 891.5,756.7 896.4,755.5 902.5,759.1 906.2,765.2 911.1,768.9 916.0,772.6 920.9,767.7 924.5,770.1 930.6,764.0 933.1,771.4 940.4,783.6 944.1,778.7 950.2,776.3 955.1,781.1 958.8,788.5 962.4,800.7 966.1,792.2 967.6,791.4 973.9,795.4 980.2,800.9 986.5,805.6 994.3,807.2 1002.2,810.3 1008.5,818.2 1014.7,822.9 1022.6,822.1 1028.9,826.0 1035.2,829.2 1041.5,829.2 1049.3,829.2 1054.0,822.9 1060.3,827.6 1066.6,835.4 1071.3,826.0 1079.2,824.4 1085.5,830.7 1091.8,837.0 1098.1,824.4 1102.8,838.6 1107.5,833.9 1113.8,830.7 1120.1,835.4 1126.3,833.9 1132.6,832.3 1138.9,830.7 1145.2,835.4 1149.9,830.7 1150.0,829.1 1155.2,820.3 1160.5,827.3 1165.7,820.3 1169.2,818.6 1174.4,827.3 1179.7,818.6 1184.9,811.6 1190.2,809.8 1195.4,813.3 1200.6,808.1 1204.1,806.4 1207.6,813.3 1212.9,802.9 1216.4,804.6 1219.8,811.6 1225.1,804.6 1230.3,801.1 1237.3,801.1 1242.5,795.9 1247.8,788.9 1251.3,785.4 1256.5,790.6 1261.8,787.1 1267.0,792.4 1272.2,792.4 1275.7,778.4 1279.2,776.7 1282.7,778.4 1287.9,787.1 1293.2,780.2 1300.0,774.9 1303.4,770.5 1308.3,769.3 1313.2,780.3 1318.1,774.2 1322.9,779.1 1327.8,781.5 1332.7,775.4 1337.6,784.0 1342.5,771.7 1346.2,772.9 1349.8,781.5 1353.5,777.8 1357.2,780.3 1360.9,784.0 1365.7,787.6 1369.4,772.9 1373.1,776.6 1376.8,779.1 1380.4,785.2 1384.1,782.7 1389.0,780.3 1393.9,780.3 1398.8,785.2 1403.7,790.1 1408.5,795.0 1413.4,797.4 1418.3,799.2 1423.2,797.4 1428.1,800.5 1433.0,802.3 1437.9,806.0 1442.8,804.7 1447.7,804.7 1452.6,808.4 1457.5,809.6 1462.4,812.1 1467.3,814.5 1472.1,813.3 1477.0,817.0 1481.9,817.6 1486.8,817.0 1490.8,826.4 1496.9,829.7 1503.1,828.5 1509.3,828.5 1513.4,824.4 1517.5,822.3 1521.6,826.4 1527.7,828.5 1531.8,825.6 1536.0,818.2 1540.1,812.0 1544.2,814.1 1548.3,812.0 1554.4,807.9 1560.6,803.8 1566.8,800.9 1572.9,797.7 1579.1,791.5 1585.2,783.3 1588.7,780.0 1591.2,767.2 1596.1,766.0 1602.2,763.5 1605.9,757.4 1608.3,746.4 1612.0,744.0 1614.4,736.6 1616.9,728.1 1620.5,721.9 1624.2,720.7 1627.9,718.3 1630.3,712.2 1634.0,707.3 1637.7,703.6 1638.9,696.3 1642.5,693.8 1646.2,693.8 1651.1,688.9 1653.5,681.6 1657.2,677.9 1660.9,675.5 1663.3,670.6 1667.0,670.6 1670.7,680.4 1673.1,682.8 1678.0,675.5 1682.9,674.2 1687.8,680.4 1691.5,669.4 1695.1,668.1 1697.6,680.4 1700.0,685.2 1704.9,676.7 1709.8,676.7 1713.5,686.5 1717.1,693.8 1722.0,688.9 1726.9,691.4 1730.6,695.0 1733.2,688.8 1737.3,690.9 1741.4,688.8 1745.5,688.8 1749.6,699.1 1753.7,705.3 1757.8,709.4 1762.0,709.4 1766.1,711.4 1770.2,709.4 1774.3,711.4 1775.0,722.4 1779.9,726.1 1786.0,723.1 1790.9,728.6 1793.4,743.2 1795.8,727.3 1799.5,729.8 1803.2,740.8 1808.1,740.8 1811.7,752.4 1816.6,750.6 1821.5,756.7 1826.4,755.5 1832.5,759.1 1836.2,765.2 1841.1,768.9 1846.0,772.6 1850.9,767.7 1854.5,770.1 1860.6,764.0 1863.1,771.4 1870.4,783.6 1874.1,778.7 1880.2,776.3 1885.1,781.1 1888.8,788.5 1892.4,800.7 1896.1,792.2 1897.6,791.4 1903.9,795.4 1910.2,800.9 1916.5,805.6 1924.3,807.2 1932.2,810.3 1938.5,818.2 1944.7,822.9 1952.6,822.1 1958.9,826.0 1965.2,829.2 1971.5,829.2 1979.3,829.2 1984.0,822.9 1990.3,827.6 1996.6,835.4 2001.3,826.0 2009.2,824.4 2015.5,830.7 2021.8,837.0 2028.1,824.4 2032.8,838.6 2037.5,833.9 2043.8,830.7 2050.1,835.4 2056.3,833.9 2062.6,832.3 2068.9,830.7 2075.2,835.4 2079.9,830.7 2080.0,829.1 2085.2,820.3 2090.5,827.3 2095.7,820.3 2099.2,818.6 2104.4,827.3 2109.7,818.6 2114.9,811.6 2120.2,809.8 2125.4,813.3 2130.6,808.1 2134.1,806.4 2137.6,813.3 2142.9,802.9 2146.4,804.6 2149.8,811.6 2155.1,804.6 2160.3,801.1 2167.3,801.1 2172.5,795.9 2177.8,788.9 2181.3,785.4 2186.5,790.6 2191.8,787.1 2197.0,792.4 2202.2,792.4 2205.7,778.4 2209.2,776.7 2212.7,778.4" fill="none" stroke="#ff00ff" stroke-width="6.5" stroke-linejoin="round"/>
</g>
<text transform="translate(316.8,1120.9) scale(1,1.035)" style="font-size:37px">XII</text><text transform="translate(406.6,1120.9) scale(1,1.035)" style="font-size:37px">I</text><text transform="translate(475.0,1120.9) scale(1,1.035)" style="font-size:37px">II</text><text transform="translate(550.0,1120.9) scale(1,1.035)" style="font-size:37px">III</text><text transform="translate(624.4,1120.9) scale(1,1.035)" style="font-size:37px">IV</text><text transform="translate(712.6,1120.9) scale(1,1.035)" style="font-size:37px">V</text><text transform="translate(782.0,1120.9) scale(1,1.035)" style="font-size:37px">VI</text><text transform="translate(858.0,1120.9) scale(1,1.035)" style="font-size:37px">VII</text><text transform="translate(926.4,1120.9) scale(1,1.035)" style="font-size:37px">VIII</text><text transform="translate(1015.0,1120.9) scale(1,1.035)" style="font-size:37px">IX</text><text transform="translate(1100.4,1120.9) scale(1,1.035)" style="font-size:37px">X</text><text transform="translate(1170.4,1120.9) scale(1,1.035)" style="font-size:37px">XI</text><text transform="translate(1246.4,1120.9) scale(1,1.035)" style="font-size:37px">XII</text><text transform="translate(1337.0,1120.9) scale(1,1.035)" style="font-size:37px">I</text><text transform="translate(1405.6,1120.9) scale(1,1.035)" style="font-size:37px">II</text><text transform="translate(1476.0,1120.9) scale(1,1.035)" style="font-size:37px">III</text><text transform="translate(1555.2,1120.9) scale(1,1.035)" style="font-size:37px">IV</text><text transform="translate(1642.2,1120.9) scale(1,1.035)" style="font-size:37px">V</text><text transform="translate(1711.6,1120.9) scale(1,1.035)" style="font-size:37px">VI</text><text transform="translate(1788.0,1120.9) scale(1,1.035)" style="font-size:37px">VII</text><text transform="translate(1857.0,1120.9) scale(1,1.035)" style="font-size:37px">VIII</text><text transform="translate(1945.4,1120.9) scale(1,1.035)" style="font-size:37px">IX</text><text transform="translate(2030.8,1120.9) scale(1,1.035)" style="font-size:37px">X</text><text transform="translate(2099.4,1120.9) scale(1,1.035)" style="font-size:37px">XI</text><text transform="translate(2176.0,1120.9) scale(1,1.035)" style="font-size:37px">XII</text>
<text transform="translate(385.71,1165.8) scale(1,1.035)" style="font-size:36.5px" textLength="80.07" lengthAdjust="spacingAndGlyphs">2025</text>
<text transform="translate(1315.63,1165.8) scale(1,1.035)" style="font-size:36.5px" textLength="79.04" lengthAdjust="spacingAndGlyphs">2026</text>
<text transform="translate(2225.20,1139.8) scale(1,1.04)" style="font-size:35.4px" textLength="453.42" lengthAdjust="spacingAndGlyphs">18-Dec-2025 17:02 WSFS-O</text>
<text transform="translate(322.90,86.8) scale(1,1.045)" style="font-size:56.4px" textLength="989.76" lengthAdjust="spacingAndGlyphs">14 352 Leivonvesi tulovirtaama 1 vrk ka</text>
<text transform="translate(99.3,914.79) rotate(-90)" style="font-size:50px" textLength="455.61" lengthAdjust="spacingAndGlyphs">Tulovirtaama / Inflow</text>
<text transform="translate(99.3,401.52) rotate(-90)" style="font-size:50px" textLength="94.59" lengthAdjust="spacingAndGlyphs">m³/s</text>
<g class="lg">
<text transform="translate(2222.73,84.4) scale(1,1.0)" style="font-size:36px" textLength="245.07" lengthAdjust="spacingAndGlyphs">Ennusteen alku</text>
<line x1="2223" y1="101" x2="2541" y2="101" stroke="#00ffff" stroke-width="9.4" stroke-dasharray="14.9 13"/>
<text transform="translate(2222.73,158.4) scale(1,1.0)" style="font-size:36px" textLength="212.67" lengthAdjust="spacingAndGlyphs">Keskiennuste</text>
<line x1="2223" y1="175" x2="2541" y2="175" stroke="#0000ff" stroke-width="9.2"/>
<text transform="translate(2222.70,231.8) scale(1,1.0)" style="font-size:36px" textLength="314.08" lengthAdjust="spacingAndGlyphs">25-75% Vaihteluväli</text>
<line x1="2223" y1="249" x2="2541" y2="249" stroke="#00ff00" stroke-width="13"/>
<text transform="translate(2223.11,306.7) scale(1,1.0)" style="font-size:36px" textLength="293.38" lengthAdjust="spacingAndGlyphs">5-95% Vaihteluväli</text>
<line x1="2223" y1="322.4" x2="2541" y2="322.4" stroke="#ff0000" stroke-width="12.6"/>
<text transform="translate(2222.73,380) scale(1,1.0)" style="font-size:36px" textLength="354.53" lengthAdjust="spacingAndGlyphs">Ennusteen vaihteluväli</text>
<line x1="2223" y1="396.4" x2="2541" y2="396.4" stroke="#ffff00" stroke-width="12.6"/>
<text transform="translate(2223.73,454.5) scale(1,1.0)" style="font-size:36px" textLength="266.72" lengthAdjust="spacingAndGlyphs">Simuloitu historia</text>
<line x1="2223" y1="470.5" x2="2541" y2="470.5" stroke="#0000ff" stroke-width="12.4"/>
<text transform="translate(2223.11,528.6) scale(1,1.0)" style="font-size:36px" textLength="319.58" lengthAdjust="spacingAndGlyphs">Simuloitujen arvojen</text>
<text transform="translate(2224.10,570.1) scale(1,1.0)" style="font-size:36px" textLength="352.20" lengthAdjust="spacingAndGlyphs">vaihteluväli 1962-2024</text>
<line x1="2223" y1="587" x2="2541" y2="587" stroke="#d3d3d3" stroke-width="13.6"/>
<text transform="translate(2223.11,644) scale(1,1.0)" style="font-size:36px" textLength="319.58" lengthAdjust="spacingAndGlyphs">Simuloitujen arvojen</text>
<text transform="translate(2222.12,686.5) scale(1,1.0)" style="font-size:36px" textLength="144.45" lengthAdjust="spacingAndGlyphs">mediaani</text>
<line x1="2223" y1="703.4" x2="2541" y2="703.4" stroke="#ff00ff" stroke-width="5.2"/>
</g>
</svg>
</body></html>
